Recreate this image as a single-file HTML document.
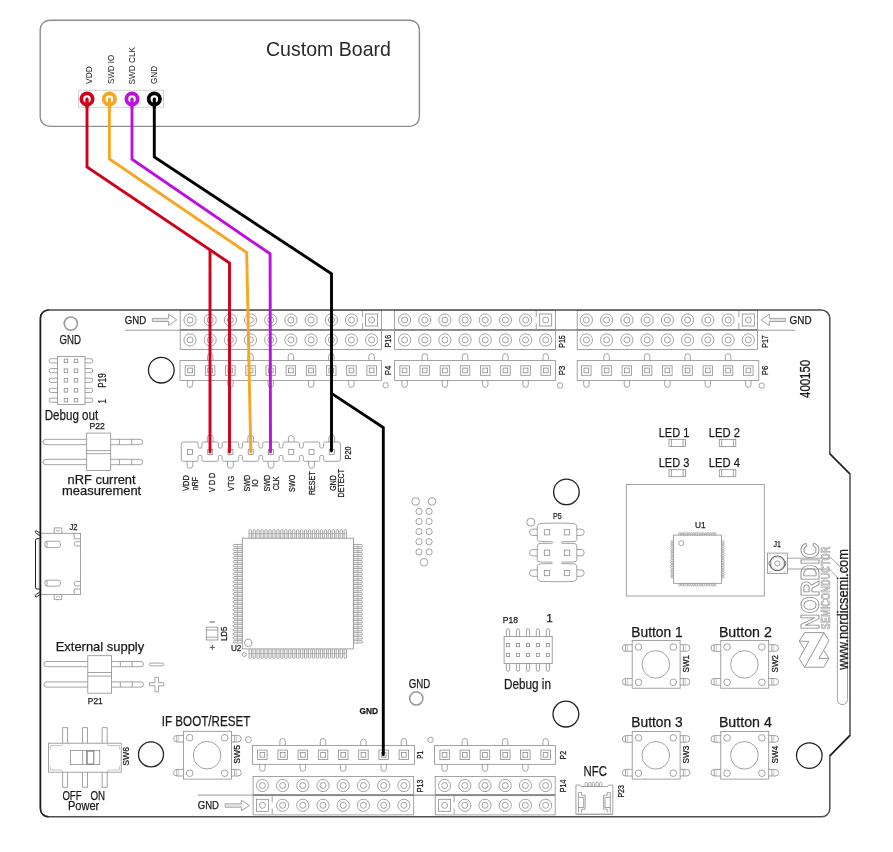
<!DOCTYPE html>
<html><head><meta charset="utf-8"><title>Board</title>
<style>html,body{margin:0;padding:0;background:#fff;width:893px;height:852px;overflow:hidden}
svg{display:block;will-change:transform} text{font-family:"Liberation Sans",sans-serif}</style></head>
<body><svg width="893" height="852" viewBox="0 0 893 852">
<rect x="40.2" y="20.2" width="379.2" height="106.2" rx="9.5" stroke="#8e8e8e" stroke-width="1.4" fill="none"/>
<text x="266.0" y="55.8" font-size="20.64" fill="#2a2a2a" stroke="#2a2a2a" stroke-width="0" font-weight="normal" textLength="124.9" lengthAdjust="spacingAndGlyphs">Custom Board</text>
<rect x="78.4" y="90.2" width="85.0" height="17.0" rx="0" stroke="#c8c8c8" stroke-width="0.8" fill="none"/>
<text transform="translate(92.0,83.9) rotate(-90)" font-size="9.33" fill="#1a1a1a" stroke="#1a1a1a" stroke-width="0" font-weight="normal" textLength="17.6" lengthAdjust="spacingAndGlyphs">VDD</text>
<text transform="translate(113.6,83.9) rotate(-90)" font-size="9.33" fill="#1a1a1a" stroke="#1a1a1a" stroke-width="0" font-weight="normal" textLength="29.0" lengthAdjust="spacingAndGlyphs">SWD IO</text>
<text transform="translate(135.3,84.6) rotate(-90)" font-size="9.33" fill="#1a1a1a" stroke="#1a1a1a" stroke-width="0" font-weight="normal" textLength="37.6" lengthAdjust="spacingAndGlyphs">SWD CLK</text>
<text transform="translate(157.1,83.9) rotate(-90)" font-size="9.33" fill="#1a1a1a" stroke="#1a1a1a" stroke-width="0" font-weight="normal" textLength="17.9" lengthAdjust="spacingAndGlyphs">GND</text>
<rect x="180.2" y="310.3" width="201.2" height="19.3" rx="0" stroke="#8c8c8c" stroke-width="0.8" fill="none"/>
<circle cx="190.0" cy="320.0" r="6.10" stroke="#8c8c8c" stroke-width="0.8" fill="none"/>
<circle cx="190.0" cy="320.0" r="3.00" stroke="#8c8c8c" stroke-width="0.8" fill="none"/>
<circle cx="210.2" cy="320.0" r="6.10" stroke="#8c8c8c" stroke-width="0.8" fill="none"/>
<circle cx="210.2" cy="320.0" r="3.00" stroke="#8c8c8c" stroke-width="0.8" fill="none"/>
<circle cx="230.4" cy="320.0" r="6.10" stroke="#8c8c8c" stroke-width="0.8" fill="none"/>
<circle cx="230.4" cy="320.0" r="3.00" stroke="#8c8c8c" stroke-width="0.8" fill="none"/>
<circle cx="250.5" cy="320.0" r="6.10" stroke="#8c8c8c" stroke-width="0.8" fill="none"/>
<circle cx="250.5" cy="320.0" r="3.00" stroke="#8c8c8c" stroke-width="0.8" fill="none"/>
<circle cx="270.7" cy="320.0" r="6.10" stroke="#8c8c8c" stroke-width="0.8" fill="none"/>
<circle cx="270.7" cy="320.0" r="3.00" stroke="#8c8c8c" stroke-width="0.8" fill="none"/>
<circle cx="290.9" cy="320.0" r="6.10" stroke="#8c8c8c" stroke-width="0.8" fill="none"/>
<circle cx="290.9" cy="320.0" r="3.00" stroke="#8c8c8c" stroke-width="0.8" fill="none"/>
<circle cx="311.1" cy="320.0" r="6.10" stroke="#8c8c8c" stroke-width="0.8" fill="none"/>
<circle cx="311.1" cy="320.0" r="3.00" stroke="#8c8c8c" stroke-width="0.8" fill="none"/>
<circle cx="331.3" cy="320.0" r="6.10" stroke="#8c8c8c" stroke-width="0.8" fill="none"/>
<circle cx="331.3" cy="320.0" r="3.00" stroke="#8c8c8c" stroke-width="0.8" fill="none"/>
<circle cx="351.4" cy="320.0" r="6.10" stroke="#8c8c8c" stroke-width="0.8" fill="none"/>
<circle cx="351.4" cy="320.0" r="3.00" stroke="#8c8c8c" stroke-width="0.8" fill="none"/>
<rect x="365.6" y="314.0" width="12.0" height="12.0" rx="0" stroke="#8c8c8c" stroke-width="0.8" fill="none"/>
<circle cx="371.6" cy="320.0" r="3.00" stroke="#8c8c8c" stroke-width="0.8" fill="none"/>
<line x1="362.4" y1="310.8" x2="362.4" y2="317.0" stroke="#8c8c8c" stroke-width="0.8"/>
<line x1="362.4" y1="323.2" x2="362.4" y2="329.1" stroke="#8c8c8c" stroke-width="0.8"/>
<rect x="394.6" y="310.3" width="160.9" height="19.3" rx="0" stroke="#8c8c8c" stroke-width="0.8" fill="none"/>
<circle cx="404.6" cy="320.0" r="6.10" stroke="#8c8c8c" stroke-width="0.8" fill="none"/>
<circle cx="404.6" cy="320.0" r="3.00" stroke="#8c8c8c" stroke-width="0.8" fill="none"/>
<circle cx="424.8" cy="320.0" r="6.10" stroke="#8c8c8c" stroke-width="0.8" fill="none"/>
<circle cx="424.8" cy="320.0" r="3.00" stroke="#8c8c8c" stroke-width="0.8" fill="none"/>
<circle cx="444.9" cy="320.0" r="6.10" stroke="#8c8c8c" stroke-width="0.8" fill="none"/>
<circle cx="444.9" cy="320.0" r="3.00" stroke="#8c8c8c" stroke-width="0.8" fill="none"/>
<circle cx="465.1" cy="320.0" r="6.10" stroke="#8c8c8c" stroke-width="0.8" fill="none"/>
<circle cx="465.1" cy="320.0" r="3.00" stroke="#8c8c8c" stroke-width="0.8" fill="none"/>
<circle cx="485.2" cy="320.0" r="6.10" stroke="#8c8c8c" stroke-width="0.8" fill="none"/>
<circle cx="485.2" cy="320.0" r="3.00" stroke="#8c8c8c" stroke-width="0.8" fill="none"/>
<circle cx="505.4" cy="320.0" r="6.10" stroke="#8c8c8c" stroke-width="0.8" fill="none"/>
<circle cx="505.4" cy="320.0" r="3.00" stroke="#8c8c8c" stroke-width="0.8" fill="none"/>
<circle cx="525.6" cy="320.0" r="6.10" stroke="#8c8c8c" stroke-width="0.8" fill="none"/>
<circle cx="525.6" cy="320.0" r="3.00" stroke="#8c8c8c" stroke-width="0.8" fill="none"/>
<rect x="539.7" y="314.0" width="12.0" height="12.0" rx="0" stroke="#8c8c8c" stroke-width="0.8" fill="none"/>
<circle cx="545.7" cy="320.0" r="3.00" stroke="#8c8c8c" stroke-width="0.8" fill="none"/>
<line x1="536.2" y1="310.8" x2="536.2" y2="317.0" stroke="#8c8c8c" stroke-width="0.8"/>
<line x1="536.2" y1="323.2" x2="536.2" y2="329.1" stroke="#8c8c8c" stroke-width="0.8"/>
<rect x="577.2" y="310.3" width="180.4" height="19.3" rx="0" stroke="#8c8c8c" stroke-width="0.8" fill="none"/>
<circle cx="586.4" cy="320.0" r="6.10" stroke="#8c8c8c" stroke-width="0.8" fill="none"/>
<circle cx="586.4" cy="320.0" r="3.00" stroke="#8c8c8c" stroke-width="0.8" fill="none"/>
<circle cx="606.6" cy="320.0" r="6.10" stroke="#8c8c8c" stroke-width="0.8" fill="none"/>
<circle cx="606.6" cy="320.0" r="3.00" stroke="#8c8c8c" stroke-width="0.8" fill="none"/>
<circle cx="626.9" cy="320.0" r="6.10" stroke="#8c8c8c" stroke-width="0.8" fill="none"/>
<circle cx="626.9" cy="320.0" r="3.00" stroke="#8c8c8c" stroke-width="0.8" fill="none"/>
<circle cx="647.1" cy="320.0" r="6.10" stroke="#8c8c8c" stroke-width="0.8" fill="none"/>
<circle cx="647.1" cy="320.0" r="3.00" stroke="#8c8c8c" stroke-width="0.8" fill="none"/>
<circle cx="667.4" cy="320.0" r="6.10" stroke="#8c8c8c" stroke-width="0.8" fill="none"/>
<circle cx="667.4" cy="320.0" r="3.00" stroke="#8c8c8c" stroke-width="0.8" fill="none"/>
<circle cx="687.6" cy="320.0" r="6.10" stroke="#8c8c8c" stroke-width="0.8" fill="none"/>
<circle cx="687.6" cy="320.0" r="3.00" stroke="#8c8c8c" stroke-width="0.8" fill="none"/>
<circle cx="707.8" cy="320.0" r="6.10" stroke="#8c8c8c" stroke-width="0.8" fill="none"/>
<circle cx="707.8" cy="320.0" r="3.00" stroke="#8c8c8c" stroke-width="0.8" fill="none"/>
<circle cx="728.1" cy="320.0" r="6.10" stroke="#8c8c8c" stroke-width="0.8" fill="none"/>
<circle cx="728.1" cy="320.0" r="3.00" stroke="#8c8c8c" stroke-width="0.8" fill="none"/>
<rect x="742.3" y="314.0" width="12.0" height="12.0" rx="0" stroke="#8c8c8c" stroke-width="0.8" fill="none"/>
<circle cx="748.3" cy="320.0" r="3.00" stroke="#8c8c8c" stroke-width="0.8" fill="none"/>
<line x1="738.8" y1="310.8" x2="738.8" y2="317.0" stroke="#8c8c8c" stroke-width="0.8"/>
<line x1="738.8" y1="323.2" x2="738.8" y2="329.1" stroke="#8c8c8c" stroke-width="0.8"/>
<rect x="180.2" y="330.4" width="201.2" height="19.1" rx="0" stroke="#8c8c8c" stroke-width="0.8" fill="none"/>
<circle cx="190.0" cy="339.9" r="6.10" stroke="#8c8c8c" stroke-width="0.8" fill="none"/>
<circle cx="190.0" cy="339.9" r="3.00" stroke="#8c8c8c" stroke-width="0.8" fill="none"/>
<circle cx="210.2" cy="339.9" r="6.10" stroke="#8c8c8c" stroke-width="0.8" fill="none"/>
<circle cx="210.2" cy="339.9" r="3.00" stroke="#8c8c8c" stroke-width="0.8" fill="none"/>
<circle cx="230.4" cy="339.9" r="6.10" stroke="#8c8c8c" stroke-width="0.8" fill="none"/>
<circle cx="230.4" cy="339.9" r="3.00" stroke="#8c8c8c" stroke-width="0.8" fill="none"/>
<circle cx="250.5" cy="339.9" r="6.10" stroke="#8c8c8c" stroke-width="0.8" fill="none"/>
<circle cx="250.5" cy="339.9" r="3.00" stroke="#8c8c8c" stroke-width="0.8" fill="none"/>
<circle cx="270.7" cy="339.9" r="6.10" stroke="#8c8c8c" stroke-width="0.8" fill="none"/>
<circle cx="270.7" cy="339.9" r="3.00" stroke="#8c8c8c" stroke-width="0.8" fill="none"/>
<circle cx="290.9" cy="339.9" r="6.10" stroke="#8c8c8c" stroke-width="0.8" fill="none"/>
<circle cx="290.9" cy="339.9" r="3.00" stroke="#8c8c8c" stroke-width="0.8" fill="none"/>
<circle cx="311.1" cy="339.9" r="6.10" stroke="#8c8c8c" stroke-width="0.8" fill="none"/>
<circle cx="311.1" cy="339.9" r="3.00" stroke="#8c8c8c" stroke-width="0.8" fill="none"/>
<circle cx="331.3" cy="339.9" r="6.10" stroke="#8c8c8c" stroke-width="0.8" fill="none"/>
<circle cx="331.3" cy="339.9" r="3.00" stroke="#8c8c8c" stroke-width="0.8" fill="none"/>
<circle cx="351.4" cy="339.9" r="6.10" stroke="#8c8c8c" stroke-width="0.8" fill="none"/>
<circle cx="351.4" cy="339.9" r="3.00" stroke="#8c8c8c" stroke-width="0.8" fill="none"/>
<circle cx="371.6" cy="339.9" r="6.10" stroke="#8c8c8c" stroke-width="0.8" fill="none"/>
<circle cx="371.6" cy="339.9" r="3.00" stroke="#8c8c8c" stroke-width="0.8" fill="none"/>
<rect x="394.6" y="330.4" width="160.9" height="19.1" rx="0" stroke="#8c8c8c" stroke-width="0.8" fill="none"/>
<circle cx="404.6" cy="339.9" r="6.10" stroke="#8c8c8c" stroke-width="0.8" fill="none"/>
<circle cx="404.6" cy="339.9" r="3.00" stroke="#8c8c8c" stroke-width="0.8" fill="none"/>
<circle cx="424.8" cy="339.9" r="6.10" stroke="#8c8c8c" stroke-width="0.8" fill="none"/>
<circle cx="424.8" cy="339.9" r="3.00" stroke="#8c8c8c" stroke-width="0.8" fill="none"/>
<circle cx="444.9" cy="339.9" r="6.10" stroke="#8c8c8c" stroke-width="0.8" fill="none"/>
<circle cx="444.9" cy="339.9" r="3.00" stroke="#8c8c8c" stroke-width="0.8" fill="none"/>
<circle cx="465.1" cy="339.9" r="6.10" stroke="#8c8c8c" stroke-width="0.8" fill="none"/>
<circle cx="465.1" cy="339.9" r="3.00" stroke="#8c8c8c" stroke-width="0.8" fill="none"/>
<circle cx="485.2" cy="339.9" r="6.10" stroke="#8c8c8c" stroke-width="0.8" fill="none"/>
<circle cx="485.2" cy="339.9" r="3.00" stroke="#8c8c8c" stroke-width="0.8" fill="none"/>
<circle cx="505.4" cy="339.9" r="6.10" stroke="#8c8c8c" stroke-width="0.8" fill="none"/>
<circle cx="505.4" cy="339.9" r="3.00" stroke="#8c8c8c" stroke-width="0.8" fill="none"/>
<circle cx="525.6" cy="339.9" r="6.10" stroke="#8c8c8c" stroke-width="0.8" fill="none"/>
<circle cx="525.6" cy="339.9" r="3.00" stroke="#8c8c8c" stroke-width="0.8" fill="none"/>
<circle cx="545.7" cy="339.9" r="6.10" stroke="#8c8c8c" stroke-width="0.8" fill="none"/>
<circle cx="545.7" cy="339.9" r="3.00" stroke="#8c8c8c" stroke-width="0.8" fill="none"/>
<rect x="577.2" y="330.4" width="180.4" height="19.1" rx="0" stroke="#8c8c8c" stroke-width="0.8" fill="none"/>
<circle cx="586.4" cy="339.9" r="6.10" stroke="#8c8c8c" stroke-width="0.8" fill="none"/>
<circle cx="586.4" cy="339.9" r="3.00" stroke="#8c8c8c" stroke-width="0.8" fill="none"/>
<circle cx="606.6" cy="339.9" r="6.10" stroke="#8c8c8c" stroke-width="0.8" fill="none"/>
<circle cx="606.6" cy="339.9" r="3.00" stroke="#8c8c8c" stroke-width="0.8" fill="none"/>
<circle cx="626.9" cy="339.9" r="6.10" stroke="#8c8c8c" stroke-width="0.8" fill="none"/>
<circle cx="626.9" cy="339.9" r="3.00" stroke="#8c8c8c" stroke-width="0.8" fill="none"/>
<circle cx="647.1" cy="339.9" r="6.10" stroke="#8c8c8c" stroke-width="0.8" fill="none"/>
<circle cx="647.1" cy="339.9" r="3.00" stroke="#8c8c8c" stroke-width="0.8" fill="none"/>
<circle cx="667.4" cy="339.9" r="6.10" stroke="#8c8c8c" stroke-width="0.8" fill="none"/>
<circle cx="667.4" cy="339.9" r="3.00" stroke="#8c8c8c" stroke-width="0.8" fill="none"/>
<circle cx="687.6" cy="339.9" r="6.10" stroke="#8c8c8c" stroke-width="0.8" fill="none"/>
<circle cx="687.6" cy="339.9" r="3.00" stroke="#8c8c8c" stroke-width="0.8" fill="none"/>
<circle cx="707.8" cy="339.9" r="6.10" stroke="#8c8c8c" stroke-width="0.8" fill="none"/>
<circle cx="707.8" cy="339.9" r="3.00" stroke="#8c8c8c" stroke-width="0.8" fill="none"/>
<circle cx="728.1" cy="339.9" r="6.10" stroke="#8c8c8c" stroke-width="0.8" fill="none"/>
<circle cx="728.1" cy="339.9" r="3.00" stroke="#8c8c8c" stroke-width="0.8" fill="none"/>
<circle cx="748.3" cy="339.9" r="6.10" stroke="#8c8c8c" stroke-width="0.8" fill="none"/>
<circle cx="748.3" cy="339.9" r="3.00" stroke="#8c8c8c" stroke-width="0.8" fill="none"/>
<line x1="125.2" y1="330.2" x2="180.2" y2="330.2" stroke="#8c8c8c" stroke-width="0.9"/>
<line x1="381.4" y1="330.2" x2="394.6" y2="330.2" stroke="#8c8c8c" stroke-width="0.9"/>
<line x1="555.5" y1="330.2" x2="577.2" y2="330.2" stroke="#8c8c8c" stroke-width="0.9"/>
<line x1="757.6" y1="330.2" x2="795.2" y2="330.2" stroke="#8c8c8c" stroke-width="0.9"/>
<line x1="180.2" y1="329.9" x2="757.6" y2="329.9" stroke="#777" stroke-width="1.0"/>
<rect x="180.0" y="360.6" width="201.4" height="19.8" rx="0" stroke="#8c8c8c" stroke-width="0.8" fill="none"/>
<rect x="185.2" y="365.8" width="9.5" height="9.5" rx="0" stroke="#8c8c8c" stroke-width="0.8" fill="none"/>
<rect x="187.7" y="368.1" width="4.7" height="4.7" rx="0" stroke="#8c8c8c" stroke-width="0.8" fill="none"/>
<path d="M187.3,380.4 L187.3,384.7 A2.7,2.7 0 0 0 192.7,384.7 L192.7,380.4" stroke="#8c8c8c" stroke-width="0.8" fill="none"/>
<rect x="205.4" y="365.8" width="9.5" height="9.5" rx="0" stroke="#8c8c8c" stroke-width="0.8" fill="none"/>
<rect x="207.8" y="368.1" width="4.7" height="4.7" rx="0" stroke="#8c8c8c" stroke-width="0.8" fill="none"/>
<path d="M207.5,360.6 L207.5,356.3 A2.7,2.7 0 0 1 212.9,356.3 L212.9,360.6" stroke="#8c8c8c" stroke-width="0.8" fill="none"/>
<rect x="225.6" y="365.8" width="9.5" height="9.5" rx="0" stroke="#8c8c8c" stroke-width="0.8" fill="none"/>
<rect x="228.0" y="368.1" width="4.7" height="4.7" rx="0" stroke="#8c8c8c" stroke-width="0.8" fill="none"/>
<path d="M227.7,380.4 L227.7,384.7 A2.7,2.7 0 0 0 233.1,384.7 L233.1,380.4" stroke="#8c8c8c" stroke-width="0.8" fill="none"/>
<rect x="245.8" y="365.8" width="9.5" height="9.5" rx="0" stroke="#8c8c8c" stroke-width="0.8" fill="none"/>
<rect x="248.2" y="368.1" width="4.7" height="4.7" rx="0" stroke="#8c8c8c" stroke-width="0.8" fill="none"/>
<path d="M247.8,360.6 L247.8,356.3 A2.7,2.7 0 0 1 253.2,356.3 L253.2,360.6" stroke="#8c8c8c" stroke-width="0.8" fill="none"/>
<rect x="266.0" y="365.8" width="9.5" height="9.5" rx="0" stroke="#8c8c8c" stroke-width="0.8" fill="none"/>
<rect x="268.4" y="368.1" width="4.7" height="4.7" rx="0" stroke="#8c8c8c" stroke-width="0.8" fill="none"/>
<path d="M268.0,380.4 L268.0,384.7 A2.7,2.7 0 0 0 273.4,384.7 L273.4,380.4" stroke="#8c8c8c" stroke-width="0.8" fill="none"/>
<rect x="286.1" y="365.8" width="9.5" height="9.5" rx="0" stroke="#8c8c8c" stroke-width="0.8" fill="none"/>
<rect x="288.5" y="368.1" width="4.7" height="4.7" rx="0" stroke="#8c8c8c" stroke-width="0.8" fill="none"/>
<path d="M288.2,360.6 L288.2,356.3 A2.7,2.7 0 0 1 293.6,356.3 L293.6,360.6" stroke="#8c8c8c" stroke-width="0.8" fill="none"/>
<rect x="306.3" y="365.8" width="9.5" height="9.5" rx="0" stroke="#8c8c8c" stroke-width="0.8" fill="none"/>
<rect x="308.7" y="368.1" width="4.7" height="4.7" rx="0" stroke="#8c8c8c" stroke-width="0.8" fill="none"/>
<path d="M308.4,380.4 L308.4,384.7 A2.7,2.7 0 0 0 313.8,384.7 L313.8,380.4" stroke="#8c8c8c" stroke-width="0.8" fill="none"/>
<rect x="326.5" y="365.8" width="9.5" height="9.5" rx="0" stroke="#8c8c8c" stroke-width="0.8" fill="none"/>
<rect x="328.9" y="368.1" width="4.7" height="4.7" rx="0" stroke="#8c8c8c" stroke-width="0.8" fill="none"/>
<path d="M328.6,360.6 L328.6,356.3 A2.7,2.7 0 0 1 334.0,356.3 L334.0,360.6" stroke="#8c8c8c" stroke-width="0.8" fill="none"/>
<rect x="346.7" y="365.8" width="9.5" height="9.5" rx="0" stroke="#8c8c8c" stroke-width="0.8" fill="none"/>
<rect x="349.1" y="368.1" width="4.7" height="4.7" rx="0" stroke="#8c8c8c" stroke-width="0.8" fill="none"/>
<path d="M348.7,380.4 L348.7,384.7 A2.7,2.7 0 0 0 354.1,384.7 L354.1,380.4" stroke="#8c8c8c" stroke-width="0.8" fill="none"/>
<rect x="366.9" y="365.8" width="9.5" height="9.5" rx="0" stroke="#8c8c8c" stroke-width="0.8" fill="none"/>
<rect x="369.3" y="368.1" width="4.7" height="4.7" rx="0" stroke="#8c8c8c" stroke-width="0.8" fill="none"/>
<path d="M368.9,360.6 L368.9,356.3 A2.7,2.7 0 0 1 374.3,356.3 L374.3,360.6" stroke="#8c8c8c" stroke-width="0.8" fill="none"/>
<rect x="394.6" y="360.6" width="160.9" height="19.8" rx="0" stroke="#8c8c8c" stroke-width="0.8" fill="none"/>
<rect x="399.9" y="365.8" width="9.5" height="9.5" rx="0" stroke="#8c8c8c" stroke-width="0.8" fill="none"/>
<rect x="402.2" y="368.1" width="4.7" height="4.7" rx="0" stroke="#8c8c8c" stroke-width="0.8" fill="none"/>
<path d="M401.9,380.4 L401.9,384.7 A2.7,2.7 0 0 0 407.3,384.7 L407.3,380.4" stroke="#8c8c8c" stroke-width="0.8" fill="none"/>
<rect x="420.0" y="365.8" width="9.5" height="9.5" rx="0" stroke="#8c8c8c" stroke-width="0.8" fill="none"/>
<rect x="422.4" y="368.1" width="4.7" height="4.7" rx="0" stroke="#8c8c8c" stroke-width="0.8" fill="none"/>
<path d="M422.1,360.6 L422.1,356.3 A2.7,2.7 0 0 1 427.5,356.3 L427.5,360.6" stroke="#8c8c8c" stroke-width="0.8" fill="none"/>
<rect x="440.2" y="365.8" width="9.5" height="9.5" rx="0" stroke="#8c8c8c" stroke-width="0.8" fill="none"/>
<rect x="442.6" y="368.1" width="4.7" height="4.7" rx="0" stroke="#8c8c8c" stroke-width="0.8" fill="none"/>
<path d="M442.2,380.4 L442.2,384.7 A2.7,2.7 0 0 0 447.6,384.7 L447.6,380.4" stroke="#8c8c8c" stroke-width="0.8" fill="none"/>
<rect x="460.3" y="365.8" width="9.5" height="9.5" rx="0" stroke="#8c8c8c" stroke-width="0.8" fill="none"/>
<rect x="462.7" y="368.1" width="4.7" height="4.7" rx="0" stroke="#8c8c8c" stroke-width="0.8" fill="none"/>
<path d="M462.4,360.6 L462.4,356.3 A2.7,2.7 0 0 1 467.8,356.3 L467.8,360.6" stroke="#8c8c8c" stroke-width="0.8" fill="none"/>
<rect x="480.5" y="365.8" width="9.5" height="9.5" rx="0" stroke="#8c8c8c" stroke-width="0.8" fill="none"/>
<rect x="482.9" y="368.1" width="4.7" height="4.7" rx="0" stroke="#8c8c8c" stroke-width="0.8" fill="none"/>
<path d="M482.5,380.4 L482.5,384.7 A2.7,2.7 0 0 0 487.9,384.7 L487.9,380.4" stroke="#8c8c8c" stroke-width="0.8" fill="none"/>
<rect x="500.7" y="365.8" width="9.5" height="9.5" rx="0" stroke="#8c8c8c" stroke-width="0.8" fill="none"/>
<rect x="503.1" y="368.1" width="4.7" height="4.7" rx="0" stroke="#8c8c8c" stroke-width="0.8" fill="none"/>
<path d="M502.7,360.6 L502.7,356.3 A2.7,2.7 0 0 1 508.1,356.3 L508.1,360.6" stroke="#8c8c8c" stroke-width="0.8" fill="none"/>
<rect x="520.8" y="365.8" width="9.5" height="9.5" rx="0" stroke="#8c8c8c" stroke-width="0.8" fill="none"/>
<rect x="523.2" y="368.1" width="4.7" height="4.7" rx="0" stroke="#8c8c8c" stroke-width="0.8" fill="none"/>
<path d="M522.9,380.4 L522.9,384.7 A2.7,2.7 0 0 0 528.3,384.7 L528.3,380.4" stroke="#8c8c8c" stroke-width="0.8" fill="none"/>
<rect x="541.0" y="365.8" width="9.5" height="9.5" rx="0" stroke="#8c8c8c" stroke-width="0.8" fill="none"/>
<rect x="543.4" y="368.1" width="4.7" height="4.7" rx="0" stroke="#8c8c8c" stroke-width="0.8" fill="none"/>
<path d="M543.0,360.6 L543.0,356.3 A2.7,2.7 0 0 1 548.4,356.3 L548.4,360.6" stroke="#8c8c8c" stroke-width="0.8" fill="none"/>
<rect x="577.2" y="360.6" width="181.6" height="19.8" rx="0" stroke="#8c8c8c" stroke-width="0.8" fill="none"/>
<rect x="581.6" y="365.8" width="9.5" height="9.5" rx="0" stroke="#8c8c8c" stroke-width="0.8" fill="none"/>
<rect x="584.0" y="368.1" width="4.7" height="4.7" rx="0" stroke="#8c8c8c" stroke-width="0.8" fill="none"/>
<path d="M583.7,380.4 L583.7,384.7 A2.7,2.7 0 0 0 589.1,384.7 L589.1,380.4" stroke="#8c8c8c" stroke-width="0.8" fill="none"/>
<rect x="601.9" y="365.8" width="9.5" height="9.5" rx="0" stroke="#8c8c8c" stroke-width="0.8" fill="none"/>
<rect x="604.3" y="368.1" width="4.7" height="4.7" rx="0" stroke="#8c8c8c" stroke-width="0.8" fill="none"/>
<path d="M603.9,360.6 L603.9,356.3 A2.7,2.7 0 0 1 609.3,356.3 L609.3,360.6" stroke="#8c8c8c" stroke-width="0.8" fill="none"/>
<rect x="622.1" y="365.8" width="9.5" height="9.5" rx="0" stroke="#8c8c8c" stroke-width="0.8" fill="none"/>
<rect x="624.5" y="368.1" width="4.7" height="4.7" rx="0" stroke="#8c8c8c" stroke-width="0.8" fill="none"/>
<path d="M624.2,380.4 L624.2,384.7 A2.7,2.7 0 0 0 629.6,384.7 L629.6,380.4" stroke="#8c8c8c" stroke-width="0.8" fill="none"/>
<rect x="642.4" y="365.8" width="9.5" height="9.5" rx="0" stroke="#8c8c8c" stroke-width="0.8" fill="none"/>
<rect x="644.8" y="368.1" width="4.7" height="4.7" rx="0" stroke="#8c8c8c" stroke-width="0.8" fill="none"/>
<path d="M644.4,360.6 L644.4,356.3 A2.7,2.7 0 0 1 649.8,356.3 L649.8,360.6" stroke="#8c8c8c" stroke-width="0.8" fill="none"/>
<rect x="662.6" y="365.8" width="9.5" height="9.5" rx="0" stroke="#8c8c8c" stroke-width="0.8" fill="none"/>
<rect x="665.0" y="368.1" width="4.7" height="4.7" rx="0" stroke="#8c8c8c" stroke-width="0.8" fill="none"/>
<path d="M664.7,380.4 L664.7,384.7 A2.7,2.7 0 0 0 670.1,384.7 L670.1,380.4" stroke="#8c8c8c" stroke-width="0.8" fill="none"/>
<rect x="682.8" y="365.8" width="9.5" height="9.5" rx="0" stroke="#8c8c8c" stroke-width="0.8" fill="none"/>
<rect x="685.2" y="368.1" width="4.7" height="4.7" rx="0" stroke="#8c8c8c" stroke-width="0.8" fill="none"/>
<path d="M684.9,360.6 L684.9,356.3 A2.7,2.7 0 0 1 690.3,356.3 L690.3,360.6" stroke="#8c8c8c" stroke-width="0.8" fill="none"/>
<rect x="703.1" y="365.8" width="9.5" height="9.5" rx="0" stroke="#8c8c8c" stroke-width="0.8" fill="none"/>
<rect x="705.5" y="368.1" width="4.7" height="4.7" rx="0" stroke="#8c8c8c" stroke-width="0.8" fill="none"/>
<path d="M705.1,380.4 L705.1,384.7 A2.7,2.7 0 0 0 710.5,384.7 L710.5,380.4" stroke="#8c8c8c" stroke-width="0.8" fill="none"/>
<rect x="723.3" y="365.8" width="9.5" height="9.5" rx="0" stroke="#8c8c8c" stroke-width="0.8" fill="none"/>
<rect x="725.7" y="368.1" width="4.7" height="4.7" rx="0" stroke="#8c8c8c" stroke-width="0.8" fill="none"/>
<path d="M725.4,360.6 L725.4,356.3 A2.7,2.7 0 0 1 730.8,356.3 L730.8,360.6" stroke="#8c8c8c" stroke-width="0.8" fill="none"/>
<rect x="743.6" y="365.8" width="9.5" height="9.5" rx="0" stroke="#8c8c8c" stroke-width="0.8" fill="none"/>
<rect x="746.0" y="368.1" width="4.7" height="4.7" rx="0" stroke="#8c8c8c" stroke-width="0.8" fill="none"/>
<path d="M745.6,380.4 L745.6,384.7 A2.7,2.7 0 0 0 751.0,384.7 L751.0,380.4" stroke="#8c8c8c" stroke-width="0.8" fill="none"/>
<text transform="translate(390.6,347.5) rotate(-90)" font-size="9.75" fill="#1a1a1a" stroke="#1a1a1a" stroke-width="0.25" font-weight="normal" textLength="12.7" lengthAdjust="spacingAndGlyphs">P16</text>
<text transform="translate(390.6,375.2) rotate(-90)" font-size="9.75" fill="#1a1a1a" stroke="#1a1a1a" stroke-width="0.25" font-weight="normal" textLength="9.4" lengthAdjust="spacingAndGlyphs">P4</text>
<text transform="translate(564.8,347.8) rotate(-90)" font-size="9.75" fill="#1a1a1a" stroke="#1a1a1a" stroke-width="0.25" font-weight="normal" textLength="12.5" lengthAdjust="spacingAndGlyphs">P15</text>
<text transform="translate(564.8,375.2) rotate(-90)" font-size="9.75" fill="#1a1a1a" stroke="#1a1a1a" stroke-width="0.25" font-weight="normal" textLength="9.4" lengthAdjust="spacingAndGlyphs">P3</text>
<text transform="translate(768.0,347.8) rotate(-90)" font-size="9.75" fill="#1a1a1a" stroke="#1a1a1a" stroke-width="0.25" font-weight="normal" textLength="12.5" lengthAdjust="spacingAndGlyphs">P17</text>
<text transform="translate(768.4,375.2) rotate(-90)" font-size="9.75" fill="#1a1a1a" stroke="#1a1a1a" stroke-width="0.25" font-weight="normal" textLength="9.4" lengthAdjust="spacingAndGlyphs">P6</text>
<circle cx="385.6" cy="385.3" r="2.70" stroke="#8c8c8c" stroke-width="0.8" fill="none"/>
<circle cx="560.1" cy="385.4" r="2.70" stroke="#8c8c8c" stroke-width="0.8" fill="none"/>
<circle cx="761.7" cy="385.6" r="2.70" stroke="#8c8c8c" stroke-width="0.8" fill="none"/>
<text x="124.8" y="323.9" font-size="11.63" fill="#1a1a1a" stroke="#1a1a1a" stroke-width="0.25" font-weight="normal" textLength="21.5" lengthAdjust="spacingAndGlyphs">GND</text>
<rect x="153" y="319.0" width="15.5" height="2.0" fill="#e2e2e2"/>
<path d="M152.4,318.4 L168.5,318.4 L168.5,314.1 L176.8,319.9 L168.5,325.5 L168.5,321.5 L152.4,321.5 Z" stroke="#8c8c8c" stroke-width="0.8" fill="none"/>
<text x="789.6" y="323.9" font-size="11.63" fill="#1a1a1a" stroke="#1a1a1a" stroke-width="0.25" font-weight="normal" textLength="22.0" lengthAdjust="spacingAndGlyphs">GND</text>
<rect x="769.3" y="319.0" width="15.5" height="2.0" fill="#e2e2e2"/>
<path d="M785.4,318.4 L769.3,318.4 L769.3,314.1 L761.0,319.9 L769.3,325.5 L769.3,321.5 L785.4,321.5 Z" stroke="#8c8c8c" stroke-width="0.8" fill="none"/>
<circle cx="70.8" cy="323.6" r="6.60" stroke="#9a9a9a" stroke-width="1.6" fill="none"/>
<text x="59.6" y="344.4" font-size="12.35" fill="#1a1a1a" stroke="#1a1a1a" stroke-width="0.25" font-weight="normal" textLength="21.4" lengthAdjust="spacingAndGlyphs">GND</text>
<circle cx="161.3" cy="370.2" r="12.80" stroke="#222" stroke-width="1.3" fill="none"/>
<rect x="57.6" y="356.4" width="27.4" height="48.1" rx="0" stroke="#8c8c8c" stroke-width="0.8" fill="none"/>
<rect x="64.2" y="359.1" width="3.5" height="3.5" rx="0" stroke="#8c8c8c" stroke-width="0.8" fill="none"/>
<rect x="74.3" y="359.1" width="3.5" height="3.5" rx="0" stroke="#8c8c8c" stroke-width="0.8" fill="none"/>
<path d="M57.6,358.7 L51.2,358.7 A2.1,2.1 0 0 0 51.2,362.9 L57.6,362.9" stroke="#8c8c8c" stroke-width="0.8" fill="none"/>
<path d="M85.0,358.7 L90.7,358.7 A2.1,2.1 0 0 1 90.7,362.9 L85.0,362.9" stroke="#8c8c8c" stroke-width="0.8" fill="none"/>
<rect x="64.2" y="368.9" width="3.5" height="3.5" rx="0" stroke="#8c8c8c" stroke-width="0.8" fill="none"/>
<rect x="74.3" y="368.9" width="3.5" height="3.5" rx="0" stroke="#8c8c8c" stroke-width="0.8" fill="none"/>
<path d="M57.6,368.5 L51.2,368.5 A2.1,2.1 0 0 0 51.2,372.7 L57.6,372.7" stroke="#8c8c8c" stroke-width="0.8" fill="none"/>
<path d="M85.0,368.5 L90.7,368.5 A2.1,2.1 0 0 1 90.7,372.7 L85.0,372.7" stroke="#8c8c8c" stroke-width="0.8" fill="none"/>
<rect x="64.2" y="378.6" width="3.5" height="3.5" rx="0" stroke="#8c8c8c" stroke-width="0.8" fill="none"/>
<rect x="74.3" y="378.6" width="3.5" height="3.5" rx="0" stroke="#8c8c8c" stroke-width="0.8" fill="none"/>
<path d="M57.6,378.2 L51.2,378.2 A2.1,2.1 0 0 0 51.2,382.4 L57.6,382.4" stroke="#8c8c8c" stroke-width="0.8" fill="none"/>
<path d="M85.0,378.2 L90.7,378.2 A2.1,2.1 0 0 1 90.7,382.4 L85.0,382.4" stroke="#8c8c8c" stroke-width="0.8" fill="none"/>
<rect x="64.2" y="388.6" width="3.5" height="3.5" rx="0" stroke="#8c8c8c" stroke-width="0.8" fill="none"/>
<rect x="74.3" y="388.6" width="3.5" height="3.5" rx="0" stroke="#8c8c8c" stroke-width="0.8" fill="none"/>
<path d="M57.6,388.3 L51.2,388.3 A2.1,2.1 0 0 0 51.2,392.5 L57.6,392.5" stroke="#8c8c8c" stroke-width="0.8" fill="none"/>
<path d="M85.0,388.3 L90.7,388.3 A2.1,2.1 0 0 1 90.7,392.5 L85.0,392.5" stroke="#8c8c8c" stroke-width="0.8" fill="none"/>
<rect x="64.2" y="398.4" width="3.5" height="3.5" rx="0" stroke="#8c8c8c" stroke-width="0.8" fill="none"/>
<rect x="74.3" y="398.4" width="3.5" height="3.5" rx="0" stroke="#8c8c8c" stroke-width="0.8" fill="none"/>
<path d="M57.6,398.1 L51.2,398.1 A2.1,2.1 0 0 0 51.2,402.3 L57.6,402.3" stroke="#8c8c8c" stroke-width="0.8" fill="none"/>
<path d="M85.0,398.1 L90.7,398.1 A2.1,2.1 0 0 1 90.7,402.3 L85.0,402.3" stroke="#8c8c8c" stroke-width="0.8" fill="none"/>
<text transform="translate(106.2,387.7) rotate(-90)" font-size="10.18" fill="#1a1a1a" stroke="#1a1a1a" stroke-width="0.25" font-weight="normal" textLength="14.4" lengthAdjust="spacingAndGlyphs">P19</text>
<text transform="translate(106.2,403.4) rotate(-90)" font-size="10.18" fill="#1a1a1a" stroke="#1a1a1a" stroke-width="0.25" font-weight="normal" textLength="4.5" lengthAdjust="spacingAndGlyphs">1</text>
<text x="44.7" y="419.6" font-size="14.83" fill="#1a1a1a" stroke="#1a1a1a" stroke-width="0.25" font-weight="normal" textLength="53.5" lengthAdjust="spacingAndGlyphs">Debug out</text>
<text x="89.4" y="429.0" font-size="9.16" fill="#1a1a1a" stroke="#1a1a1a" stroke-width="0.25" font-weight="normal" textLength="15.5" lengthAdjust="spacingAndGlyphs">P22</text>
<rect x="86.7" y="433.1" width="24.0" height="37.3" rx="0" stroke="#8c8c8c" stroke-width="0.8" fill="none"/>
<line x1="86.7" y1="450.6" x2="110.7" y2="450.6" stroke="#8c8c8c" stroke-width="0.8"/>
<line x1="86.7" y1="453.7" x2="110.7" y2="453.7" stroke="#8c8c8c" stroke-width="0.8"/>
<path d="M86.7,439.3 L45.7,439.3 A2.7,2.7 0 0 0 45.7,444.7 L86.7,444.7" stroke="#8c8c8c" stroke-width="0.8" fill="none"/>
<path d="M110.7,439.3 L139.8,439.3 A2.7,2.7 0 0 1 139.8,444.7 L110.7,444.7" stroke="#8c8c8c" stroke-width="0.8" fill="none"/>
<line x1="119.4" y1="439.3" x2="119.4" y2="444.7" stroke="#8c8c8c" stroke-width="0.8"/>
<line x1="131.8" y1="439.3" x2="131.8" y2="444.7" stroke="#8c8c8c" stroke-width="0.8"/>
<path d="M86.7,459.3 L45.7,459.3 A2.7,2.7 0 0 0 45.7,464.7 L86.7,464.7" stroke="#8c8c8c" stroke-width="0.8" fill="none"/>
<path d="M110.7,459.3 L139.8,459.3 A2.7,2.7 0 0 1 139.8,464.7 L110.7,464.7" stroke="#8c8c8c" stroke-width="0.8" fill="none"/>
<line x1="119.4" y1="459.3" x2="119.4" y2="464.7" stroke="#8c8c8c" stroke-width="0.8"/>
<line x1="131.8" y1="459.3" x2="131.8" y2="464.7" stroke="#8c8c8c" stroke-width="0.8"/>
<text x="67.6" y="484.1" font-size="12.93" fill="#1a1a1a" stroke="#1a1a1a" stroke-width="0.25" font-weight="normal" textLength="68.0" lengthAdjust="spacingAndGlyphs">nRF current</text>
<text x="62.0" y="494.7" font-size="12.93" fill="#1a1a1a" stroke="#1a1a1a" stroke-width="0.25" font-weight="normal" textLength="79.2" lengthAdjust="spacingAndGlyphs">measurement</text>
<rect x="40.3" y="533.3" width="40.3" height="61.1" rx="0" stroke="#8c8c8c" stroke-width="0.8" fill="none"/>
<path d="M40.3,533.5 L36.6,530.8 Q35.4,530.5 35.2,531.8 Q35.2,532.7 36.2,533.3 L39.9,535.7 Q40.9,536.4 40.8,537.5 Q40.6,538.7 39.3,538.7 L37.0,538.7 Q35.5,538.8 35.5,540.6" stroke="#1c1c1c" stroke-width="1.0" fill="none"/>
<path d="M40.3,594.2 L36.6,596.9 Q35.4,597.2 35.2,595.9 Q35.2,595.0 36.2,594.4 L39.9,592.0 Q40.9,591.3 40.8,590.2 Q40.6,589.0 39.3,589.0 L37.0,589.0 Q35.5,588.9 35.5,587.1" stroke="#1c1c1c" stroke-width="1.0" fill="none"/>
<line x1="35.5" y1="540.5" x2="35.5" y2="587.2" stroke="#1c1c1c" stroke-width="1.0"/>
<line x1="39.0" y1="540.0" x2="39.0" y2="587.7" stroke="#bbb" stroke-width="0.8"/>
<rect x="44.8" y="541.2" width="15.6" height="6.4" rx="2.5" stroke="#8c8c8c" stroke-width="0.8" fill="none"/>
<line x1="47.0" y1="541.2" x2="47.0" y2="547.6" stroke="#8c8c8c" stroke-width="0.8"/>
<rect x="44.8" y="580.2" width="15.6" height="6.0" rx="2.5" stroke="#8c8c8c" stroke-width="0.8" fill="none"/>
<line x1="47.0" y1="580.2" x2="47.0" y2="586.2" stroke="#8c8c8c" stroke-width="0.8"/>
<path d="M54.2,533.3 L54.2,527.9 L61.8,527.9 L61.8,533.3" stroke="#8c8c8c" stroke-width="0.8" fill="none"/>
<path d="M56.0,530.2 Q58,532.2 60,530.2" stroke="#8c8c8c" stroke-width="0.7" fill="none"/>
<path d="M54.2,594.4 L54.2,599.6 L61.8,599.6 L61.8,594.4" stroke="#8c8c8c" stroke-width="0.8" fill="none"/>
<path d="M56.0,597.4 Q58,595.4 60,597.4" stroke="#8c8c8c" stroke-width="0.7" fill="none"/>
<path d="M80.6,538.8 L74.2,538.8 L74.2,533.3" stroke="#8c8c8c" stroke-width="0.8" fill="none"/>
<path d="M80.6,546.0 L76.4,546.0 A2.2,2.2 0 0 1 76.4,541.6 L80.6,541.6" stroke="#8c8c8c" stroke-width="0.8" fill="none"/>
<path d="M80.6,589.0 L74.2,589.0 L74.2,594.4" stroke="#8c8c8c" stroke-width="0.8" fill="none"/>
<path d="M80.6,585.8 L76.4,585.8 A2.2,2.2 0 0 1 76.4,581.4 L80.6,581.4" stroke="#8c8c8c" stroke-width="0.8" fill="none"/>
<text x="69.4" y="529.9" font-size="8.90" fill="#1a1a1a" stroke="#1a1a1a" stroke-width="0.25" font-weight="normal" textLength="8.1" lengthAdjust="spacingAndGlyphs">J2</text>
<text x="55.7" y="650.9" font-size="13.36" fill="#1a1a1a" stroke="#1a1a1a" stroke-width="0.25" font-weight="normal" textLength="88.5" lengthAdjust="spacingAndGlyphs">External supply</text>
<rect x="87.8" y="655.7" width="23.8" height="37.5" rx="0" stroke="#8c8c8c" stroke-width="0.8" fill="none"/>
<line x1="87.8" y1="672.5" x2="111.6" y2="672.5" stroke="#8c8c8c" stroke-width="0.8"/>
<line x1="87.8" y1="676.1" x2="111.6" y2="676.1" stroke="#8c8c8c" stroke-width="0.8"/>
<path d="M87.8,661.5 L46.5,661.5 A2.6,2.6 0 0 0 46.5,666.7 L87.8,666.7" stroke="#8c8c8c" stroke-width="0.8" fill="none"/>
<path d="M111.6,661.5 L140.9,661.5 A2.6,2.6 0 0 1 140.9,666.7 L111.6,666.7" stroke="#8c8c8c" stroke-width="0.8" fill="none"/>
<line x1="120.4" y1="661.5" x2="120.4" y2="666.7" stroke="#8c8c8c" stroke-width="0.8"/>
<line x1="132.2" y1="661.5" x2="132.2" y2="666.7" stroke="#8c8c8c" stroke-width="0.8"/>
<path d="M87.8,681.9 L46.5,681.9 A2.6,2.6 0 0 0 46.5,687.1 L87.8,687.1" stroke="#8c8c8c" stroke-width="0.8" fill="none"/>
<path d="M111.6,681.9 L140.9,681.9 A2.6,2.6 0 0 1 140.9,687.1 L111.6,687.1" stroke="#8c8c8c" stroke-width="0.8" fill="none"/>
<line x1="120.4" y1="681.9" x2="120.4" y2="687.1" stroke="#8c8c8c" stroke-width="0.8"/>
<line x1="132.2" y1="681.9" x2="132.2" y2="687.1" stroke="#8c8c8c" stroke-width="0.8"/>
<rect x="149.4" y="663.1" width="14.4" height="2.7" rx="1.3" stroke="#8c8c8c" stroke-width="0.8" fill="none"/>
<path d="M149.4,682.7 L154.9,682.7 L154.9,677.2 L158.4,677.2 L158.4,682.7 L163.8,682.7 L163.8,685.8 L158.4,685.8 L158.4,691.8 L154.9,691.8 L154.9,685.8 L149.4,685.8 Z" stroke="#8c8c8c" stroke-width="0.8" fill="none"/>
<text x="87.8" y="703.9" font-size="9.12" fill="#1a1a1a" stroke="#1a1a1a" stroke-width="0.25" font-weight="normal" textLength="14.9" lengthAdjust="spacingAndGlyphs">P21</text>
<rect x="48.6" y="743.2" width="72.6" height="29.0" rx="0" stroke="#8c8c8c" stroke-width="0.8" fill="none"/>
<path d="M50.4,749.0 L50.4,745.6 L61.6,745.6 L63.0,743.2" stroke="#aaa" stroke-width="0.7" fill="none"/>
<path d="M50.4,766.4 L50.4,770.0 L61.6,770.0 L63.0,772.2" stroke="#aaa" stroke-width="0.7" fill="none"/>
<path d="M119.4,749.0 L119.4,745.6 L108.2,745.6 L106.8,743.2" stroke="#aaa" stroke-width="0.7" fill="none"/>
<path d="M119.4,766.4 L119.4,770.0 L108.2,770.0 L106.8,772.2" stroke="#aaa" stroke-width="0.7" fill="none"/>
<path d="M62.6,743.2 L62.6,727.6 L67.6,727.6 L67.6,743.2" stroke="#8c8c8c" stroke-width="0.8" fill="none"/>
<path d="M62.6,772.2 L62.6,787.3 L67.6,787.3 L67.6,772.2" stroke="#8c8c8c" stroke-width="0.8" fill="none"/>
<path d="M82.5,743.2 L82.5,727.6 L87.5,727.6 L87.5,743.2" stroke="#8c8c8c" stroke-width="0.8" fill="none"/>
<path d="M82.5,772.2 L82.5,787.3 L87.5,787.3 L87.5,772.2" stroke="#8c8c8c" stroke-width="0.8" fill="none"/>
<path d="M102.2,743.2 L102.2,727.6 L107.2,727.6 L107.2,743.2" stroke="#8c8c8c" stroke-width="0.8" fill="none"/>
<path d="M102.2,772.2 L102.2,787.3 L107.2,787.3 L107.2,772.2" stroke="#8c8c8c" stroke-width="0.8" fill="none"/>
<rect x="70.4" y="750.4" width="29.3" height="14.2" rx="0" stroke="#8c8c8c" stroke-width="0.8" fill="none"/>
<line x1="82.6" y1="750.4" x2="82.6" y2="764.6" stroke="#8c8c8c" stroke-width="0.8"/>
<line x1="86.7" y1="750.4" x2="86.7" y2="764.6" stroke="#8c8c8c" stroke-width="0.8"/>
<rect x="87.1" y="751.1" width="6.7" height="13.0" rx="0" stroke="#777" stroke-width="1.0" fill="none"/>
<text transform="translate(129.4,765.7) rotate(-90)" font-size="9.75" fill="#1a1a1a" stroke="#1a1a1a" stroke-width="0.25" font-weight="normal" textLength="18.9" lengthAdjust="spacingAndGlyphs">SW6</text>
<circle cx="151.0" cy="754.4" r="12.50" stroke="#222" stroke-width="1.3" fill="none"/>
<text x="62.4" y="800.1" font-size="11.87" fill="#1a1a1a" stroke="#1a1a1a" stroke-width="0.25" font-weight="normal" textLength="19.1" lengthAdjust="spacingAndGlyphs">OFF</text>
<text x="90.5" y="800.1" font-size="11.87" fill="#1a1a1a" stroke="#1a1a1a" stroke-width="0.25" font-weight="normal" textLength="14.6" lengthAdjust="spacingAndGlyphs">ON</text>
<text x="67.9" y="810.3" font-size="12.93" fill="#1a1a1a" stroke="#1a1a1a" stroke-width="0.25" font-weight="normal" textLength="31.4" lengthAdjust="spacingAndGlyphs">Power</text>
<path d="M181.3,444.0 Q181.3,442.0 183.3,442.0 L197.0,442.0 Q198.1,442.0 198.1,443.8 L198.1,446.8 Q198.1,448.1 200.0,448.1 Q201.9,448.1 201.9,446.8 L201.9,443.8 Q201.9,442.0 203.0,442.0 L217.3,442.0 Q218.4,442.0 218.4,443.8 L218.4,446.8 Q218.4,448.1 220.3,448.1 Q222.2,448.1 222.2,446.8 L222.2,443.8 Q222.2,442.0 223.3,442.0 L237.6,442.0 Q238.7,442.0 238.7,443.8 L238.7,446.8 Q238.7,448.1 240.6,448.1 Q242.5,448.1 242.5,446.8 L242.5,443.8 Q242.5,442.0 243.6,442.0 L257.8,442.0 Q258.9,442.0 258.9,443.8 L258.9,446.8 Q258.9,448.1 260.8,448.1 Q262.7,448.1 262.7,446.8 L262.7,443.8 Q262.7,442.0 263.8,442.0 L278.1,442.0 Q279.2,442.0 279.2,443.8 L279.2,446.8 Q279.2,448.1 281.1,448.1 Q283.0,448.1 283.0,446.8 L283.0,443.8 Q283.0,442.0 284.1,442.0 L298.4,442.0 Q299.5,442.0 299.5,443.8 L299.5,446.8 Q299.5,448.1 301.4,448.1 Q303.3,448.1 303.3,446.8 L303.3,443.8 Q303.3,442.0 304.4,442.0 L318.7,442.0 Q319.8,442.0 319.8,443.8 L319.8,446.8 Q319.8,448.1 321.7,448.1 Q323.6,448.1 323.6,446.8 L323.6,443.8 Q323.6,442.0 324.7,442.0 L338.5,442.0 Q340.5,442.0 340.5,444.0 L340.5,459.3 Q340.5,461.3 338.5,461.3 L324.7,461.3 Q323.6,461.3 323.6,459.5 L323.6,456.6 Q323.6,455.3 321.7,455.3 Q319.8,455.3 319.8,456.6 L319.8,459.5 Q319.8,461.3 318.7,461.3 L304.4,461.3 Q303.3,461.3 303.3,459.5 L303.3,456.6 Q303.3,455.3 301.4,455.3 Q299.5,455.3 299.5,456.6 L299.5,459.5 Q299.5,461.3 298.4,461.3 L284.1,461.3 Q283.0,461.3 283.0,459.5 L283.0,456.6 Q283.0,455.3 281.1,455.3 Q279.2,455.3 279.2,456.6 L279.2,459.5 Q279.2,461.3 278.1,461.3 L263.8,461.3 Q262.7,461.3 262.7,459.5 L262.7,456.6 Q262.7,455.3 260.8,455.3 Q258.9,455.3 258.9,456.6 L258.9,459.5 Q258.9,461.3 257.8,461.3 L243.6,461.3 Q242.5,461.3 242.5,459.5 L242.5,456.6 Q242.5,455.3 240.6,455.3 Q238.7,455.3 238.7,456.6 L238.7,459.5 Q238.7,461.3 237.6,461.3 L223.3,461.3 Q222.2,461.3 222.2,459.5 L222.2,456.6 Q222.2,455.3 220.3,455.3 Q218.4,455.3 218.4,456.6 L218.4,459.5 Q218.4,461.3 217.3,461.3 L203.0,461.3 Q201.9,461.3 201.9,459.5 L201.9,456.6 Q201.9,455.3 200.0,455.3 Q198.1,455.3 198.1,456.6 L198.1,459.5 Q198.1,461.3 197.0,461.3 L183.3,461.3 Q181.3,461.3 181.3,459.3 Z" stroke="#8c8c8c" stroke-width="0.8" fill="none"/>
<rect x="187.4" y="449.5" width="5.0" height="5.0" rx="0" stroke="#8c8c8c" stroke-width="0.8" fill="none"/>
<path d="M187.0,461.3 L187.0,465.4 A2.9,2.9 0 0 0 192.8,465.4 L192.8,461.3" stroke="#8c8c8c" stroke-width="0.8" fill="none"/>
<rect x="207.7" y="449.5" width="5.0" height="5.0" rx="0" stroke="#8c8c8c" stroke-width="0.8" fill="none"/>
<path d="M207.3,442.0 L207.3,437.9 A2.9,2.9 0 0 1 213.1,437.9 L213.1,442.0" stroke="#8c8c8c" stroke-width="0.8" fill="none"/>
<rect x="227.9" y="449.5" width="5.0" height="5.0" rx="0" stroke="#8c8c8c" stroke-width="0.8" fill="none"/>
<path d="M227.5,461.3 L227.5,465.4 A2.9,2.9 0 0 0 233.3,465.4 L233.3,461.3" stroke="#8c8c8c" stroke-width="0.8" fill="none"/>
<rect x="248.2" y="449.5" width="5.0" height="5.0" rx="0" stroke="#8c8c8c" stroke-width="0.8" fill="none"/>
<path d="M247.8,442.0 L247.8,437.9 A2.9,2.9 0 0 1 253.6,437.9 L253.6,442.0" stroke="#8c8c8c" stroke-width="0.8" fill="none"/>
<rect x="268.5" y="449.5" width="5.0" height="5.0" rx="0" stroke="#8c8c8c" stroke-width="0.8" fill="none"/>
<path d="M268.1,461.3 L268.1,465.4 A2.9,2.9 0 0 0 273.9,465.4 L273.9,461.3" stroke="#8c8c8c" stroke-width="0.8" fill="none"/>
<rect x="288.8" y="449.5" width="5.0" height="5.0" rx="0" stroke="#8c8c8c" stroke-width="0.8" fill="none"/>
<path d="M288.4,442.0 L288.4,437.9 A2.9,2.9 0 0 1 294.1,437.9 L294.1,442.0" stroke="#8c8c8c" stroke-width="0.8" fill="none"/>
<rect x="309.0" y="449.5" width="5.0" height="5.0" rx="0" stroke="#8c8c8c" stroke-width="0.8" fill="none"/>
<path d="M308.6,461.3 L308.6,465.4 A2.9,2.9 0 0 0 314.4,465.4 L314.4,461.3" stroke="#8c8c8c" stroke-width="0.8" fill="none"/>
<rect x="329.3" y="449.5" width="5.0" height="5.0" rx="0" stroke="#8c8c8c" stroke-width="0.8" fill="none"/>
<path d="M328.9,442.0 L328.9,437.9 A2.9,2.9 0 0 1 334.7,437.9 L334.7,442.0" stroke="#8c8c8c" stroke-width="0.8" fill="none"/>
<text transform="translate(351.0,459.4) rotate(-90)" font-size="9.54" fill="#1a1a1a" stroke="#1a1a1a" stroke-width="0.25" font-weight="normal" textLength="12.8" lengthAdjust="spacingAndGlyphs">P20</text>
<text transform="translate(189.1,490.9) rotate(-90)" font-size="9.75" fill="#1a1a1a" stroke="#1a1a1a" stroke-width="0.25" font-weight="normal" textLength="15.8" lengthAdjust="spacingAndGlyphs">VDD</text>
<text transform="translate(197.5,490.2) rotate(-90)" font-size="9.75" fill="#1a1a1a" stroke="#1a1a1a" stroke-width="0.25" font-weight="normal" textLength="13.1" lengthAdjust="spacingAndGlyphs">nRF</text>
<text transform="translate(214.9,491.9) rotate(-90)" font-size="9.75" fill="#1a1a1a" stroke="#1a1a1a" stroke-width="0.25" font-weight="normal" textLength="19.2" lengthAdjust="spacingAndGlyphs">V D D</text>
<text transform="translate(234.4,490.9) rotate(-90)" font-size="9.75" fill="#1a1a1a" stroke="#1a1a1a" stroke-width="0.25" font-weight="normal" textLength="15.1" lengthAdjust="spacingAndGlyphs">VTG</text>
<text transform="translate(250.1,491.5) rotate(-90)" font-size="9.75" fill="#1a1a1a" stroke="#1a1a1a" stroke-width="0.25" font-weight="normal" textLength="16.8" lengthAdjust="spacingAndGlyphs">SWD</text>
<text transform="translate(258.1,486.8) rotate(-90)" font-size="9.75" fill="#1a1a1a" stroke="#1a1a1a" stroke-width="0.25" font-weight="normal" textLength="7.4" lengthAdjust="spacingAndGlyphs">IO</text>
<text transform="translate(269.9,491.5) rotate(-90)" font-size="9.75" fill="#1a1a1a" stroke="#1a1a1a" stroke-width="0.25" font-weight="normal" textLength="16.8" lengthAdjust="spacingAndGlyphs">SWD</text>
<text transform="translate(278.6,490.2) rotate(-90)" font-size="9.75" fill="#1a1a1a" stroke="#1a1a1a" stroke-width="0.25" font-weight="normal" textLength="13.8" lengthAdjust="spacingAndGlyphs">CLK</text>
<text transform="translate(295.1,491.9) rotate(-90)" font-size="9.75" fill="#1a1a1a" stroke="#1a1a1a" stroke-width="0.25" font-weight="normal" textLength="17.2" lengthAdjust="spacingAndGlyphs">SWO</text>
<text transform="translate(315.1,495.0) rotate(-90)" font-size="9.75" fill="#1a1a1a" stroke="#1a1a1a" stroke-width="0.25" font-weight="normal" textLength="23.5" lengthAdjust="spacingAndGlyphs">RESET</text>
<text transform="translate(335.8,490.8) rotate(-90)" font-size="9.75" fill="#1a1a1a" stroke="#1a1a1a" stroke-width="0.25" font-weight="normal" textLength="15.7" lengthAdjust="spacingAndGlyphs">GND</text>
<text transform="translate(344.0,497.5) rotate(-90)" font-size="9.75" fill="#1a1a1a" stroke="#1a1a1a" stroke-width="0.25" font-weight="normal" textLength="28.5" lengthAdjust="spacingAndGlyphs">DETECT</text>
<rect x="242.3" y="538.2" width="111.1" height="110.7" rx="0" stroke="#8c8c8c" stroke-width="0.8" fill="none"/>
<path d="M249.05,538.2 L249.05,530.2 Q250.20,528.9 251.35,530.2 L251.35,538.2" stroke="#888" stroke-width="0.75" fill="none"/>
<path d="M249.05,649.0 L249.05,657.8 Q250.20,659.1 251.35,657.8 L251.35,649.0" stroke="#888" stroke-width="0.75" fill="none"/>
<path d="M242.3,544.45 L233.8,544.45 Q232.5,545.60 233.8,546.75 L242.3,546.75" stroke="#888" stroke-width="0.75" fill="none"/>
<path d="M353.4,544.45 L361.9,544.45 Q363.2,545.60 361.9,546.75 L353.4,546.75" stroke="#888" stroke-width="0.75" fill="none"/>
<path d="M253.01,538.2 L253.01,530.2 Q254.16,528.9 255.31,530.2 L255.31,538.2" stroke="#888" stroke-width="0.75" fill="none"/>
<path d="M253.01,649.0 L253.01,657.8 Q254.16,659.1 255.31,657.8 L255.31,649.0" stroke="#888" stroke-width="0.75" fill="none"/>
<path d="M242.3,548.46 L233.8,548.46 Q232.5,549.61 233.8,550.76 L242.3,550.76" stroke="#888" stroke-width="0.75" fill="none"/>
<path d="M353.4,548.46 L361.9,548.46 Q363.2,549.61 361.9,550.76 L353.4,550.76" stroke="#888" stroke-width="0.75" fill="none"/>
<path d="M256.97,538.2 L256.97,530.2 Q258.12,528.9 259.27,530.2 L259.27,538.2" stroke="#888" stroke-width="0.75" fill="none"/>
<path d="M256.97,649.0 L256.97,657.8 Q258.12,659.1 259.27,657.8 L259.27,649.0" stroke="#888" stroke-width="0.75" fill="none"/>
<path d="M242.3,552.47 L233.8,552.47 Q232.5,553.62 233.8,554.77 L242.3,554.77" stroke="#888" stroke-width="0.75" fill="none"/>
<path d="M353.4,552.47 L361.9,552.47 Q363.2,553.62 361.9,554.77 L353.4,554.77" stroke="#888" stroke-width="0.75" fill="none"/>
<path d="M260.93,538.2 L260.93,530.2 Q262.08,528.9 263.23,530.2 L263.23,538.2" stroke="#888" stroke-width="0.75" fill="none"/>
<path d="M260.93,649.0 L260.93,657.8 Q262.08,659.1 263.23,657.8 L263.23,649.0" stroke="#888" stroke-width="0.75" fill="none"/>
<path d="M242.3,556.48 L233.8,556.48 Q232.5,557.63 233.8,558.78 L242.3,558.78" stroke="#888" stroke-width="0.75" fill="none"/>
<path d="M353.4,556.48 L361.9,556.48 Q363.2,557.63 361.9,558.78 L353.4,558.78" stroke="#888" stroke-width="0.75" fill="none"/>
<path d="M264.89,538.2 L264.89,530.2 Q266.04,528.9 267.19,530.2 L267.19,538.2" stroke="#888" stroke-width="0.75" fill="none"/>
<path d="M264.89,649.0 L264.89,657.8 Q266.04,659.1 267.19,657.8 L267.19,649.0" stroke="#888" stroke-width="0.75" fill="none"/>
<path d="M242.3,560.49 L233.8,560.49 Q232.5,561.64 233.8,562.79 L242.3,562.79" stroke="#888" stroke-width="0.75" fill="none"/>
<path d="M353.4,560.49 L361.9,560.49 Q363.2,561.64 361.9,562.79 L353.4,562.79" stroke="#888" stroke-width="0.75" fill="none"/>
<path d="M268.85,538.2 L268.85,530.2 Q270.00,528.9 271.15,530.2 L271.15,538.2" stroke="#888" stroke-width="0.75" fill="none"/>
<path d="M268.85,649.0 L268.85,657.8 Q270.00,659.1 271.15,657.8 L271.15,649.0" stroke="#888" stroke-width="0.75" fill="none"/>
<path d="M242.3,564.50 L233.8,564.50 Q232.5,565.65 233.8,566.80 L242.3,566.80" stroke="#888" stroke-width="0.75" fill="none"/>
<path d="M353.4,564.50 L361.9,564.50 Q363.2,565.65 361.9,566.80 L353.4,566.80" stroke="#888" stroke-width="0.75" fill="none"/>
<path d="M272.81,538.2 L272.81,530.2 Q273.96,528.9 275.11,530.2 L275.11,538.2" stroke="#888" stroke-width="0.75" fill="none"/>
<path d="M272.81,649.0 L272.81,657.8 Q273.96,659.1 275.11,657.8 L275.11,649.0" stroke="#888" stroke-width="0.75" fill="none"/>
<path d="M242.3,568.51 L233.8,568.51 Q232.5,569.66 233.8,570.81 L242.3,570.81" stroke="#888" stroke-width="0.75" fill="none"/>
<path d="M353.4,568.51 L361.9,568.51 Q363.2,569.66 361.9,570.81 L353.4,570.81" stroke="#888" stroke-width="0.75" fill="none"/>
<path d="M276.77,538.2 L276.77,530.2 Q277.92,528.9 279.07,530.2 L279.07,538.2" stroke="#888" stroke-width="0.75" fill="none"/>
<path d="M276.77,649.0 L276.77,657.8 Q277.92,659.1 279.07,657.8 L279.07,649.0" stroke="#888" stroke-width="0.75" fill="none"/>
<path d="M242.3,572.52 L233.8,572.52 Q232.5,573.67 233.8,574.82 L242.3,574.82" stroke="#888" stroke-width="0.75" fill="none"/>
<path d="M353.4,572.52 L361.9,572.52 Q363.2,573.67 361.9,574.82 L353.4,574.82" stroke="#888" stroke-width="0.75" fill="none"/>
<path d="M280.73,538.2 L280.73,530.2 Q281.88,528.9 283.03,530.2 L283.03,538.2" stroke="#888" stroke-width="0.75" fill="none"/>
<path d="M280.73,649.0 L280.73,657.8 Q281.88,659.1 283.03,657.8 L283.03,649.0" stroke="#888" stroke-width="0.75" fill="none"/>
<path d="M242.3,576.53 L233.8,576.53 Q232.5,577.68 233.8,578.83 L242.3,578.83" stroke="#888" stroke-width="0.75" fill="none"/>
<path d="M353.4,576.53 L361.9,576.53 Q363.2,577.68 361.9,578.83 L353.4,578.83" stroke="#888" stroke-width="0.75" fill="none"/>
<path d="M284.69,538.2 L284.69,530.2 Q285.84,528.9 286.99,530.2 L286.99,538.2" stroke="#888" stroke-width="0.75" fill="none"/>
<path d="M284.69,649.0 L284.69,657.8 Q285.84,659.1 286.99,657.8 L286.99,649.0" stroke="#888" stroke-width="0.75" fill="none"/>
<path d="M242.3,580.54 L233.8,580.54 Q232.5,581.69 233.8,582.84 L242.3,582.84" stroke="#888" stroke-width="0.75" fill="none"/>
<path d="M353.4,580.54 L361.9,580.54 Q363.2,581.69 361.9,582.84 L353.4,582.84" stroke="#888" stroke-width="0.75" fill="none"/>
<path d="M288.65,538.2 L288.65,530.2 Q289.80,528.9 290.95,530.2 L290.95,538.2" stroke="#888" stroke-width="0.75" fill="none"/>
<path d="M288.65,649.0 L288.65,657.8 Q289.80,659.1 290.95,657.8 L290.95,649.0" stroke="#888" stroke-width="0.75" fill="none"/>
<path d="M242.3,584.55 L233.8,584.55 Q232.5,585.70 233.8,586.85 L242.3,586.85" stroke="#888" stroke-width="0.75" fill="none"/>
<path d="M353.4,584.55 L361.9,584.55 Q363.2,585.70 361.9,586.85 L353.4,586.85" stroke="#888" stroke-width="0.75" fill="none"/>
<path d="M292.61,538.2 L292.61,530.2 Q293.76,528.9 294.91,530.2 L294.91,538.2" stroke="#888" stroke-width="0.75" fill="none"/>
<path d="M292.61,649.0 L292.61,657.8 Q293.76,659.1 294.91,657.8 L294.91,649.0" stroke="#888" stroke-width="0.75" fill="none"/>
<path d="M242.3,588.56 L233.8,588.56 Q232.5,589.71 233.8,590.86 L242.3,590.86" stroke="#888" stroke-width="0.75" fill="none"/>
<path d="M353.4,588.56 L361.9,588.56 Q363.2,589.71 361.9,590.86 L353.4,590.86" stroke="#888" stroke-width="0.75" fill="none"/>
<path d="M296.57,538.2 L296.57,530.2 Q297.72,528.9 298.87,530.2 L298.87,538.2" stroke="#888" stroke-width="0.75" fill="none"/>
<path d="M296.57,649.0 L296.57,657.8 Q297.72,659.1 298.87,657.8 L298.87,649.0" stroke="#888" stroke-width="0.75" fill="none"/>
<path d="M242.3,592.57 L233.8,592.57 Q232.5,593.72 233.8,594.87 L242.3,594.87" stroke="#888" stroke-width="0.75" fill="none"/>
<path d="M353.4,592.57 L361.9,592.57 Q363.2,593.72 361.9,594.87 L353.4,594.87" stroke="#888" stroke-width="0.75" fill="none"/>
<path d="M300.53,538.2 L300.53,530.2 Q301.68,528.9 302.83,530.2 L302.83,538.2" stroke="#888" stroke-width="0.75" fill="none"/>
<path d="M300.53,649.0 L300.53,657.8 Q301.68,659.1 302.83,657.8 L302.83,649.0" stroke="#888" stroke-width="0.75" fill="none"/>
<path d="M242.3,596.58 L233.8,596.58 Q232.5,597.73 233.8,598.88 L242.3,598.88" stroke="#888" stroke-width="0.75" fill="none"/>
<path d="M353.4,596.58 L361.9,596.58 Q363.2,597.73 361.9,598.88 L353.4,598.88" stroke="#888" stroke-width="0.75" fill="none"/>
<path d="M304.49,538.2 L304.49,530.2 Q305.64,528.9 306.79,530.2 L306.79,538.2" stroke="#888" stroke-width="0.75" fill="none"/>
<path d="M304.49,649.0 L304.49,657.8 Q305.64,659.1 306.79,657.8 L306.79,649.0" stroke="#888" stroke-width="0.75" fill="none"/>
<path d="M242.3,600.59 L233.8,600.59 Q232.5,601.74 233.8,602.89 L242.3,602.89" stroke="#888" stroke-width="0.75" fill="none"/>
<path d="M353.4,600.59 L361.9,600.59 Q363.2,601.74 361.9,602.89 L353.4,602.89" stroke="#888" stroke-width="0.75" fill="none"/>
<path d="M308.45,538.2 L308.45,530.2 Q309.60,528.9 310.75,530.2 L310.75,538.2" stroke="#888" stroke-width="0.75" fill="none"/>
<path d="M308.45,649.0 L308.45,657.8 Q309.60,659.1 310.75,657.8 L310.75,649.0" stroke="#888" stroke-width="0.75" fill="none"/>
<path d="M242.3,604.60 L233.8,604.60 Q232.5,605.75 233.8,606.90 L242.3,606.90" stroke="#888" stroke-width="0.75" fill="none"/>
<path d="M353.4,604.60 L361.9,604.60 Q363.2,605.75 361.9,606.90 L353.4,606.90" stroke="#888" stroke-width="0.75" fill="none"/>
<path d="M312.41,538.2 L312.41,530.2 Q313.56,528.9 314.71,530.2 L314.71,538.2" stroke="#888" stroke-width="0.75" fill="none"/>
<path d="M312.41,649.0 L312.41,657.8 Q313.56,659.1 314.71,657.8 L314.71,649.0" stroke="#888" stroke-width="0.75" fill="none"/>
<path d="M242.3,608.61 L233.8,608.61 Q232.5,609.76 233.8,610.91 L242.3,610.91" stroke="#888" stroke-width="0.75" fill="none"/>
<path d="M353.4,608.61 L361.9,608.61 Q363.2,609.76 361.9,610.91 L353.4,610.91" stroke="#888" stroke-width="0.75" fill="none"/>
<path d="M316.37,538.2 L316.37,530.2 Q317.52,528.9 318.67,530.2 L318.67,538.2" stroke="#888" stroke-width="0.75" fill="none"/>
<path d="M316.37,649.0 L316.37,657.8 Q317.52,659.1 318.67,657.8 L318.67,649.0" stroke="#888" stroke-width="0.75" fill="none"/>
<path d="M242.3,612.62 L233.8,612.62 Q232.5,613.77 233.8,614.92 L242.3,614.92" stroke="#888" stroke-width="0.75" fill="none"/>
<path d="M353.4,612.62 L361.9,612.62 Q363.2,613.77 361.9,614.92 L353.4,614.92" stroke="#888" stroke-width="0.75" fill="none"/>
<path d="M320.33,538.2 L320.33,530.2 Q321.48,528.9 322.63,530.2 L322.63,538.2" stroke="#888" stroke-width="0.75" fill="none"/>
<path d="M320.33,649.0 L320.33,657.8 Q321.48,659.1 322.63,657.8 L322.63,649.0" stroke="#888" stroke-width="0.75" fill="none"/>
<path d="M242.3,616.63 L233.8,616.63 Q232.5,617.78 233.8,618.93 L242.3,618.93" stroke="#888" stroke-width="0.75" fill="none"/>
<path d="M353.4,616.63 L361.9,616.63 Q363.2,617.78 361.9,618.93 L353.4,618.93" stroke="#888" stroke-width="0.75" fill="none"/>
<path d="M324.29,538.2 L324.29,530.2 Q325.44,528.9 326.59,530.2 L326.59,538.2" stroke="#888" stroke-width="0.75" fill="none"/>
<path d="M324.29,649.0 L324.29,657.8 Q325.44,659.1 326.59,657.8 L326.59,649.0" stroke="#888" stroke-width="0.75" fill="none"/>
<path d="M242.3,620.64 L233.8,620.64 Q232.5,621.79 233.8,622.94 L242.3,622.94" stroke="#888" stroke-width="0.75" fill="none"/>
<path d="M353.4,620.64 L361.9,620.64 Q363.2,621.79 361.9,622.94 L353.4,622.94" stroke="#888" stroke-width="0.75" fill="none"/>
<path d="M328.25,538.2 L328.25,530.2 Q329.40,528.9 330.55,530.2 L330.55,538.2" stroke="#888" stroke-width="0.75" fill="none"/>
<path d="M328.25,649.0 L328.25,657.8 Q329.40,659.1 330.55,657.8 L330.55,649.0" stroke="#888" stroke-width="0.75" fill="none"/>
<path d="M242.3,624.65 L233.8,624.65 Q232.5,625.80 233.8,626.95 L242.3,626.95" stroke="#888" stroke-width="0.75" fill="none"/>
<path d="M353.4,624.65 L361.9,624.65 Q363.2,625.80 361.9,626.95 L353.4,626.95" stroke="#888" stroke-width="0.75" fill="none"/>
<path d="M332.21,538.2 L332.21,530.2 Q333.36,528.9 334.51,530.2 L334.51,538.2" stroke="#888" stroke-width="0.75" fill="none"/>
<path d="M332.21,649.0 L332.21,657.8 Q333.36,659.1 334.51,657.8 L334.51,649.0" stroke="#888" stroke-width="0.75" fill="none"/>
<path d="M242.3,628.66 L233.8,628.66 Q232.5,629.81 233.8,630.96 L242.3,630.96" stroke="#888" stroke-width="0.75" fill="none"/>
<path d="M353.4,628.66 L361.9,628.66 Q363.2,629.81 361.9,630.96 L353.4,630.96" stroke="#888" stroke-width="0.75" fill="none"/>
<path d="M336.17,538.2 L336.17,530.2 Q337.32,528.9 338.47,530.2 L338.47,538.2" stroke="#888" stroke-width="0.75" fill="none"/>
<path d="M336.17,649.0 L336.17,657.8 Q337.32,659.1 338.47,657.8 L338.47,649.0" stroke="#888" stroke-width="0.75" fill="none"/>
<path d="M242.3,632.67 L233.8,632.67 Q232.5,633.82 233.8,634.97 L242.3,634.97" stroke="#888" stroke-width="0.75" fill="none"/>
<path d="M353.4,632.67 L361.9,632.67 Q363.2,633.82 361.9,634.97 L353.4,634.97" stroke="#888" stroke-width="0.75" fill="none"/>
<path d="M340.13,538.2 L340.13,530.2 Q341.28,528.9 342.43,530.2 L342.43,538.2" stroke="#888" stroke-width="0.75" fill="none"/>
<path d="M340.13,649.0 L340.13,657.8 Q341.28,659.1 342.43,657.8 L342.43,649.0" stroke="#888" stroke-width="0.75" fill="none"/>
<path d="M242.3,636.68 L233.8,636.68 Q232.5,637.83 233.8,638.98 L242.3,638.98" stroke="#888" stroke-width="0.75" fill="none"/>
<path d="M353.4,636.68 L361.9,636.68 Q363.2,637.83 361.9,638.98 L353.4,638.98" stroke="#888" stroke-width="0.75" fill="none"/>
<path d="M344.09,538.2 L344.09,530.2 Q345.24,528.9 346.39,530.2 L346.39,538.2" stroke="#888" stroke-width="0.75" fill="none"/>
<path d="M344.09,649.0 L344.09,657.8 Q345.24,659.1 346.39,657.8 L346.39,649.0" stroke="#888" stroke-width="0.75" fill="none"/>
<path d="M242.3,640.69 L233.8,640.69 Q232.5,641.84 233.8,642.99 L242.3,642.99" stroke="#888" stroke-width="0.75" fill="none"/>
<path d="M353.4,640.69 L361.9,640.69 Q363.2,641.84 361.9,642.99 L353.4,642.99" stroke="#888" stroke-width="0.75" fill="none"/>
<line x1="248.6" y1="533.6" x2="346.8" y2="533.6" stroke="#999" stroke-width="0.6"/>
<line x1="248.6" y1="653.6" x2="346.8" y2="653.6" stroke="#999" stroke-width="0.6"/>
<line x1="237.4" y1="544.0" x2="237.4" y2="643.4" stroke="#999" stroke-width="0.6"/>
<line x1="357.9" y1="544.0" x2="357.9" y2="643.4" stroke="#999" stroke-width="0.6"/>
<circle cx="248.2" cy="642.9" r="3.80" stroke="#8c8c8c" stroke-width="0.8" fill="none"/>
<circle cx="244.3" cy="654.5" r="2.00" stroke="#8c8c8c" stroke-width="0.8" fill="none"/>
<text x="230.9" y="650.5" font-size="9.12" fill="#1a1a1a" stroke="#1a1a1a" stroke-width="0.25" font-weight="normal" textLength="10.5" lengthAdjust="spacingAndGlyphs">U2</text>
<rect x="206.3" y="627.2" width="11.6" height="12.8" rx="0" stroke="#8c8c8c" stroke-width="0.8" fill="none"/>
<line x1="206.3" y1="630.0" x2="217.9" y2="630.0" stroke="#8c8c8c" stroke-width="0.8"/>
<line x1="206.3" y1="637.2" x2="217.9" y2="637.2" stroke="#8c8c8c" stroke-width="0.8"/>
<text transform="translate(226.8,641.1) rotate(-90)" font-size="9.54" fill="#1a1a1a" stroke="#1a1a1a" stroke-width="0.25" font-weight="normal" textLength="14.6" lengthAdjust="spacingAndGlyphs">LD5</text>
<line x1="209.8" y1="622.0" x2="214.8" y2="622.0" stroke="#555" stroke-width="1.0"/>
<line x1="209.8" y1="647.4" x2="214.8" y2="647.4" stroke="#555" stroke-width="1.0"/>
<line x1="212.3" y1="644.9" x2="212.3" y2="649.9" stroke="#555" stroke-width="1.0"/>
<circle cx="415.7" cy="501.4" r="3.80" stroke="#8c8c8c" stroke-width="0.8" fill="none"/>
<circle cx="432.0" cy="501.4" r="3.80" stroke="#8c8c8c" stroke-width="0.8" fill="none"/>
<circle cx="419.0" cy="511.4" r="3.10" stroke="#8c8c8c" stroke-width="0.8" fill="none"/>
<circle cx="429.1" cy="511.4" r="3.10" stroke="#8c8c8c" stroke-width="0.8" fill="none"/>
<circle cx="419.0" cy="521.5" r="3.10" stroke="#8c8c8c" stroke-width="0.8" fill="none"/>
<circle cx="429.1" cy="521.5" r="3.10" stroke="#8c8c8c" stroke-width="0.8" fill="none"/>
<circle cx="419.0" cy="531.6" r="3.10" stroke="#8c8c8c" stroke-width="0.8" fill="none"/>
<circle cx="429.1" cy="531.6" r="3.10" stroke="#8c8c8c" stroke-width="0.8" fill="none"/>
<circle cx="419.0" cy="541.7" r="3.10" stroke="#8c8c8c" stroke-width="0.8" fill="none"/>
<circle cx="429.1" cy="541.7" r="3.10" stroke="#8c8c8c" stroke-width="0.8" fill="none"/>
<circle cx="419.0" cy="552.0" r="3.10" stroke="#8c8c8c" stroke-width="0.8" fill="none"/>
<circle cx="429.1" cy="552.0" r="3.10" stroke="#8c8c8c" stroke-width="0.8" fill="none"/>
<circle cx="424.0" cy="562.3" r="3.80" stroke="#8c8c8c" stroke-width="0.8" fill="none"/>
<circle cx="566.4" cy="491.9" r="12.80" stroke="#222" stroke-width="1.3" fill="none"/>
<text x="553.0" y="518.6" font-size="9.12" fill="#1a1a1a" stroke="#1a1a1a" stroke-width="0.25" font-weight="normal" textLength="8.7" lengthAdjust="spacingAndGlyphs">P5</text>
<circle cx="530.8" cy="522.2" r="4.00" stroke="#8c8c8c" stroke-width="0.8" fill="none"/>
<path d="M537.3,526.4 Q537.3,523.6 541.0,523.4 Q557,522.6 573.0999999999999,523.4 Q576.8,523.6 576.8,526.4 L576.8,539.5 Q576.8,541.5 573.0,541.6 L562.2,541.7 A0.8,0.8 0 0 0 562.2,543.3 L573.0,543.4 Q576.8,543.5 576.8,545.5 L576.8,559.9 Q576.8,561.9 573.0,562.0 L562.2,562.1 A0.8,0.8 0 0 0 562.2,563.6 L573.0,563.8 Q576.8,563.9 576.8,565.9 L576.8,578.4 Q576.8,581.1999999999999 573.0999999999999,581.4 Q557,582.1999999999999 541.0,581.4 Q537.3,581.1999999999999 537.3,578.4 L537.3,565.9 Q537.3,563.9 541.1,563.8 L551.8,563.6 A0.8,0.8 0 0 0 551.8,562.1 L541.1,562.0 Q537.3,561.9 537.3,559.9 L537.3,545.5 Q537.3,543.5 541.1,543.4 L551.8,543.3 A0.8,0.8 0 0 0 551.8,541.7 L541.1,541.6 Q537.3,541.5 537.3,539.5 Z" stroke="#8c8c8c" stroke-width="0.8" fill="none"/>
<rect x="544.3" y="529.7" width="5.4" height="5.2" rx="0" stroke="#8c8c8c" stroke-width="0.8" fill="none"/>
<rect x="564.3" y="529.7" width="5.4" height="5.2" rx="0" stroke="#8c8c8c" stroke-width="0.8" fill="none"/>
<path d="M537.3,529.1 L532.7,529.1 A3.2,3.2 0 0 0 532.7,535.5 L537.3,535.5" stroke="#8c8c8c" stroke-width="0.8" fill="none"/>
<path d="M576.8,529.1 L581.0,529.1 A3.2,3.2 0 0 1 581.0,535.5 L576.8,535.5" stroke="#8c8c8c" stroke-width="0.8" fill="none"/>
<rect x="544.3" y="550.1" width="5.4" height="5.2" rx="0" stroke="#8c8c8c" stroke-width="0.8" fill="none"/>
<rect x="564.3" y="550.1" width="5.4" height="5.2" rx="0" stroke="#8c8c8c" stroke-width="0.8" fill="none"/>
<path d="M537.3,549.5 L532.7,549.5 A3.2,3.2 0 0 0 532.7,555.9 L537.3,555.9" stroke="#8c8c8c" stroke-width="0.8" fill="none"/>
<path d="M576.8,549.5 L581.0,549.5 A3.2,3.2 0 0 1 581.0,555.9 L576.8,555.9" stroke="#8c8c8c" stroke-width="0.8" fill="none"/>
<rect x="544.3" y="570.5" width="5.4" height="5.2" rx="0" stroke="#8c8c8c" stroke-width="0.8" fill="none"/>
<rect x="564.3" y="570.5" width="5.4" height="5.2" rx="0" stroke="#8c8c8c" stroke-width="0.8" fill="none"/>
<path d="M537.3,569.9 L532.7,569.9 A3.2,3.2 0 0 0 532.7,576.3 L537.3,576.3" stroke="#8c8c8c" stroke-width="0.8" fill="none"/>
<path d="M576.8,569.9 L581.0,569.9 A3.2,3.2 0 0 1 581.0,576.3 L576.8,576.3" stroke="#8c8c8c" stroke-width="0.8" fill="none"/>
<text x="502.8" y="622.7" font-size="9.12" fill="#1a1a1a" stroke="#1a1a1a" stroke-width="0.25" font-weight="normal" textLength="15.2" lengthAdjust="spacingAndGlyphs">P18</text>
<text x="546.3" y="621.9" font-size="11.66" fill="#1a1a1a" stroke="#1a1a1a" stroke-width="0.25" font-weight="normal">1</text>
<rect x="504.1" y="636.6" width="48.1" height="27.0" rx="0" stroke="#8c8c8c" stroke-width="0.8" fill="none"/>
<rect x="506.4" y="643.5" width="3.2" height="3.2" rx="0" stroke="#8c8c8c" stroke-width="0.8" fill="none"/>
<rect x="506.4" y="653.3" width="3.2" height="3.2" rx="0" stroke="#8c8c8c" stroke-width="0.8" fill="none"/>
<path d="M506.4,636.6 L506.4,630.4 A1.6,1.6 0 0 1 509.6,630.4 L509.6,636.6" stroke="#8c8c8c" stroke-width="0.8" fill="none"/>
<path d="M506.4,663.6 L506.4,669.7 A1.6,1.6 0 0 0 509.6,669.7 L509.6,663.6" stroke="#8c8c8c" stroke-width="0.8" fill="none"/>
<rect x="516.4" y="643.5" width="3.2" height="3.2" rx="0" stroke="#8c8c8c" stroke-width="0.8" fill="none"/>
<rect x="516.4" y="653.3" width="3.2" height="3.2" rx="0" stroke="#8c8c8c" stroke-width="0.8" fill="none"/>
<path d="M516.4,636.6 L516.4,630.4 A1.6,1.6 0 0 1 519.6,630.4 L519.6,636.6" stroke="#8c8c8c" stroke-width="0.8" fill="none"/>
<path d="M516.4,663.6 L516.4,669.7 A1.6,1.6 0 0 0 519.6,669.7 L519.6,663.6" stroke="#8c8c8c" stroke-width="0.8" fill="none"/>
<rect x="526.4" y="643.5" width="3.2" height="3.2" rx="0" stroke="#8c8c8c" stroke-width="0.8" fill="none"/>
<rect x="526.4" y="653.3" width="3.2" height="3.2" rx="0" stroke="#8c8c8c" stroke-width="0.8" fill="none"/>
<path d="M526.4,636.6 L526.4,630.4 A1.6,1.6 0 0 1 529.6,630.4 L529.6,636.6" stroke="#8c8c8c" stroke-width="0.8" fill="none"/>
<path d="M526.4,663.6 L526.4,669.7 A1.6,1.6 0 0 0 529.6,669.7 L529.6,663.6" stroke="#8c8c8c" stroke-width="0.8" fill="none"/>
<rect x="536.3" y="643.5" width="3.2" height="3.2" rx="0" stroke="#8c8c8c" stroke-width="0.8" fill="none"/>
<rect x="536.3" y="653.3" width="3.2" height="3.2" rx="0" stroke="#8c8c8c" stroke-width="0.8" fill="none"/>
<path d="M536.3,636.6 L536.3,630.4 A1.6,1.6 0 0 1 539.5,630.4 L539.5,636.6" stroke="#8c8c8c" stroke-width="0.8" fill="none"/>
<path d="M536.3,663.6 L536.3,669.7 A1.6,1.6 0 0 0 539.5,669.7 L539.5,663.6" stroke="#8c8c8c" stroke-width="0.8" fill="none"/>
<rect x="546.3" y="643.5" width="3.2" height="3.2" rx="0" stroke="#8c8c8c" stroke-width="0.8" fill="none"/>
<rect x="546.3" y="653.3" width="3.2" height="3.2" rx="0" stroke="#8c8c8c" stroke-width="0.8" fill="none"/>
<path d="M546.3,636.6 L546.3,630.4 A1.6,1.6 0 0 1 549.5,630.4 L549.5,636.6" stroke="#8c8c8c" stroke-width="0.8" fill="none"/>
<path d="M546.3,663.6 L546.3,669.7 A1.6,1.6 0 0 0 549.5,669.7 L549.5,663.6" stroke="#8c8c8c" stroke-width="0.8" fill="none"/>
<text x="504.1" y="688.8" font-size="13.99" fill="#1a1a1a" stroke="#1a1a1a" stroke-width="0.25" font-weight="normal" textLength="46.9" lengthAdjust="spacingAndGlyphs">Debug in</text>
<text x="408.8" y="688.3" font-size="11.87" fill="#1a1a1a" stroke="#1a1a1a" stroke-width="0.25" font-weight="normal" textLength="21.6" lengthAdjust="spacingAndGlyphs">GND</text>
<circle cx="416.3" cy="698.4" r="6.60" stroke="#9a9a9a" stroke-width="1.6" fill="none"/>
<circle cx="565.9" cy="714.1" r="12.90" stroke="#222" stroke-width="1.3" fill="none"/>
<text transform="translate(810.1,397.9) rotate(-90)" font-size="15.12" fill="#1a1a1a" stroke="#1a1a1a" stroke-width="0.25" font-weight="normal" textLength="38.0" lengthAdjust="spacingAndGlyphs">400150</text>
<text x="658.7" y="436.9" font-size="13.14" fill="#1a1a1a" stroke="#1a1a1a" stroke-width="0.25" font-weight="normal" textLength="30.6" lengthAdjust="spacingAndGlyphs">LED 1</text>
<text x="708.7" y="436.9" font-size="13.14" fill="#1a1a1a" stroke="#1a1a1a" stroke-width="0.25" font-weight="normal" textLength="31.3" lengthAdjust="spacingAndGlyphs">LED 2</text>
<text x="658.7" y="466.9" font-size="13.14" fill="#1a1a1a" stroke="#1a1a1a" stroke-width="0.25" font-weight="normal" textLength="30.6" lengthAdjust="spacingAndGlyphs">LED 3</text>
<text x="708.7" y="466.9" font-size="13.14" fill="#1a1a1a" stroke="#1a1a1a" stroke-width="0.25" font-weight="normal" textLength="31.3" lengthAdjust="spacingAndGlyphs">LED 4</text>
<rect x="669.0" y="439.4" width="16.5" height="7.0" rx="0" stroke="#8c8c8c" stroke-width="0.8" fill="none"/>
<line x1="671.4" y1="439.4" x2="671.4" y2="446.4" stroke="#8c8c8c" stroke-width="0.8"/>
<line x1="683.1" y1="439.4" x2="683.1" y2="446.4" stroke="#8c8c8c" stroke-width="0.8"/>
<rect x="719.3" y="439.4" width="16.5" height="7.0" rx="0" stroke="#8c8c8c" stroke-width="0.8" fill="none"/>
<line x1="721.7" y1="439.4" x2="721.7" y2="446.4" stroke="#8c8c8c" stroke-width="0.8"/>
<line x1="733.4" y1="439.4" x2="733.4" y2="446.4" stroke="#8c8c8c" stroke-width="0.8"/>
<rect x="669.0" y="469.7" width="16.5" height="7.0" rx="0" stroke="#8c8c8c" stroke-width="0.8" fill="none"/>
<line x1="671.4" y1="469.7" x2="671.4" y2="476.7" stroke="#8c8c8c" stroke-width="0.8"/>
<line x1="683.1" y1="469.7" x2="683.1" y2="476.7" stroke="#8c8c8c" stroke-width="0.8"/>
<rect x="719.3" y="469.7" width="16.5" height="7.0" rx="0" stroke="#8c8c8c" stroke-width="0.8" fill="none"/>
<line x1="721.7" y1="469.7" x2="721.7" y2="476.7" stroke="#8c8c8c" stroke-width="0.8"/>
<line x1="733.4" y1="469.7" x2="733.4" y2="476.7" stroke="#8c8c8c" stroke-width="0.8"/>
<rect x="626.3" y="484.4" width="138.0" height="111.6" rx="0" stroke="#8c8c8c" stroke-width="0.8" fill="none"/>
<rect x="673.5" y="535.1" width="47.9" height="48.2" rx="0" stroke="#8c8c8c" stroke-width="0.8" fill="none"/>
<path d="M678.80,535.3 L678.80,532.9 Q679.60,531.9 680.40,532.9 L680.40,535.3" stroke="#8a8a8a" stroke-width="0.6" fill="none"/>
<path d="M678.80,583.3 L678.80,585.7 Q679.60,586.7 680.40,585.7 L680.40,583.3" stroke="#8a8a8a" stroke-width="0.6" fill="none"/>
<path d="M673.5,540.70 L671.1,540.70 Q670.1,541.50 671.1,542.30 L673.5,542.30" stroke="#8a8a8a" stroke-width="0.6" fill="none"/>
<path d="M721.4,540.70 L723.8,540.70 Q724.8,541.50 723.8,542.30 L721.4,542.30" stroke="#8a8a8a" stroke-width="0.6" fill="none"/>
<path d="M681.17,535.3 L681.17,532.9 Q681.97,531.9 682.77,532.9 L682.77,535.3" stroke="#8a8a8a" stroke-width="0.6" fill="none"/>
<path d="M681.17,583.3 L681.17,585.7 Q681.97,586.7 682.77,585.7 L682.77,583.3" stroke="#8a8a8a" stroke-width="0.6" fill="none"/>
<path d="M673.5,543.07 L671.1,543.07 Q670.1,543.87 671.1,544.67 L673.5,544.67" stroke="#8a8a8a" stroke-width="0.6" fill="none"/>
<path d="M721.4,543.07 L723.8,543.07 Q724.8,543.87 723.8,544.67 L721.4,544.67" stroke="#8a8a8a" stroke-width="0.6" fill="none"/>
<path d="M683.54,535.3 L683.54,532.9 Q684.34,531.9 685.14,532.9 L685.14,535.3" stroke="#8a8a8a" stroke-width="0.6" fill="none"/>
<path d="M683.54,583.3 L683.54,585.7 Q684.34,586.7 685.14,585.7 L685.14,583.3" stroke="#8a8a8a" stroke-width="0.6" fill="none"/>
<path d="M673.5,545.44 L671.1,545.44 Q670.1,546.24 671.1,547.04 L673.5,547.04" stroke="#8a8a8a" stroke-width="0.6" fill="none"/>
<path d="M721.4,545.44 L723.8,545.44 Q724.8,546.24 723.8,547.04 L721.4,547.04" stroke="#8a8a8a" stroke-width="0.6" fill="none"/>
<path d="M685.91,535.3 L685.91,532.9 Q686.71,531.9 687.51,532.9 L687.51,535.3" stroke="#8a8a8a" stroke-width="0.6" fill="none"/>
<path d="M685.91,583.3 L685.91,585.7 Q686.71,586.7 687.51,585.7 L687.51,583.3" stroke="#8a8a8a" stroke-width="0.6" fill="none"/>
<path d="M673.5,547.81 L671.1,547.81 Q670.1,548.61 671.1,549.41 L673.5,549.41" stroke="#8a8a8a" stroke-width="0.6" fill="none"/>
<path d="M721.4,547.81 L723.8,547.81 Q724.8,548.61 723.8,549.41 L721.4,549.41" stroke="#8a8a8a" stroke-width="0.6" fill="none"/>
<path d="M688.28,535.3 L688.28,532.9 Q689.08,531.9 689.88,532.9 L689.88,535.3" stroke="#8a8a8a" stroke-width="0.6" fill="none"/>
<path d="M688.28,583.3 L688.28,585.7 Q689.08,586.7 689.88,585.7 L689.88,583.3" stroke="#8a8a8a" stroke-width="0.6" fill="none"/>
<path d="M673.5,550.18 L671.1,550.18 Q670.1,550.98 671.1,551.78 L673.5,551.78" stroke="#8a8a8a" stroke-width="0.6" fill="none"/>
<path d="M721.4,550.18 L723.8,550.18 Q724.8,550.98 723.8,551.78 L721.4,551.78" stroke="#8a8a8a" stroke-width="0.6" fill="none"/>
<path d="M690.65,535.3 L690.65,532.9 Q691.45,531.9 692.25,532.9 L692.25,535.3" stroke="#8a8a8a" stroke-width="0.6" fill="none"/>
<path d="M690.65,583.3 L690.65,585.7 Q691.45,586.7 692.25,585.7 L692.25,583.3" stroke="#8a8a8a" stroke-width="0.6" fill="none"/>
<path d="M673.5,552.55 L671.1,552.55 Q670.1,553.35 671.1,554.15 L673.5,554.15" stroke="#8a8a8a" stroke-width="0.6" fill="none"/>
<path d="M721.4,552.55 L723.8,552.55 Q724.8,553.35 723.8,554.15 L721.4,554.15" stroke="#8a8a8a" stroke-width="0.6" fill="none"/>
<path d="M693.02,535.3 L693.02,532.9 Q693.82,531.9 694.62,532.9 L694.62,535.3" stroke="#8a8a8a" stroke-width="0.6" fill="none"/>
<path d="M693.02,583.3 L693.02,585.7 Q693.82,586.7 694.62,585.7 L694.62,583.3" stroke="#8a8a8a" stroke-width="0.6" fill="none"/>
<path d="M673.5,554.92 L671.1,554.92 Q670.1,555.72 671.1,556.52 L673.5,556.52" stroke="#8a8a8a" stroke-width="0.6" fill="none"/>
<path d="M721.4,554.92 L723.8,554.92 Q724.8,555.72 723.8,556.52 L721.4,556.52" stroke="#8a8a8a" stroke-width="0.6" fill="none"/>
<path d="M695.39,535.3 L695.39,532.9 Q696.19,531.9 696.99,532.9 L696.99,535.3" stroke="#8a8a8a" stroke-width="0.6" fill="none"/>
<path d="M695.39,583.3 L695.39,585.7 Q696.19,586.7 696.99,585.7 L696.99,583.3" stroke="#8a8a8a" stroke-width="0.6" fill="none"/>
<path d="M673.5,557.29 L671.1,557.29 Q670.1,558.09 671.1,558.89 L673.5,558.89" stroke="#8a8a8a" stroke-width="0.6" fill="none"/>
<path d="M721.4,557.29 L723.8,557.29 Q724.8,558.09 723.8,558.89 L721.4,558.89" stroke="#8a8a8a" stroke-width="0.6" fill="none"/>
<path d="M697.76,535.3 L697.76,532.9 Q698.56,531.9 699.36,532.9 L699.36,535.3" stroke="#8a8a8a" stroke-width="0.6" fill="none"/>
<path d="M697.76,583.3 L697.76,585.7 Q698.56,586.7 699.36,585.7 L699.36,583.3" stroke="#8a8a8a" stroke-width="0.6" fill="none"/>
<path d="M673.5,559.66 L671.1,559.66 Q670.1,560.46 671.1,561.26 L673.5,561.26" stroke="#8a8a8a" stroke-width="0.6" fill="none"/>
<path d="M721.4,559.66 L723.8,559.66 Q724.8,560.46 723.8,561.26 L721.4,561.26" stroke="#8a8a8a" stroke-width="0.6" fill="none"/>
<path d="M700.13,535.3 L700.13,532.9 Q700.93,531.9 701.73,532.9 L701.73,535.3" stroke="#8a8a8a" stroke-width="0.6" fill="none"/>
<path d="M700.13,583.3 L700.13,585.7 Q700.93,586.7 701.73,585.7 L701.73,583.3" stroke="#8a8a8a" stroke-width="0.6" fill="none"/>
<path d="M673.5,562.03 L671.1,562.03 Q670.1,562.83 671.1,563.63 L673.5,563.63" stroke="#8a8a8a" stroke-width="0.6" fill="none"/>
<path d="M721.4,562.03 L723.8,562.03 Q724.8,562.83 723.8,563.63 L721.4,563.63" stroke="#8a8a8a" stroke-width="0.6" fill="none"/>
<path d="M702.50,535.3 L702.50,532.9 Q703.30,531.9 704.10,532.9 L704.10,535.3" stroke="#8a8a8a" stroke-width="0.6" fill="none"/>
<path d="M702.50,583.3 L702.50,585.7 Q703.30,586.7 704.10,585.7 L704.10,583.3" stroke="#8a8a8a" stroke-width="0.6" fill="none"/>
<path d="M673.5,564.40 L671.1,564.40 Q670.1,565.20 671.1,566.00 L673.5,566.00" stroke="#8a8a8a" stroke-width="0.6" fill="none"/>
<path d="M721.4,564.40 L723.8,564.40 Q724.8,565.20 723.8,566.00 L721.4,566.00" stroke="#8a8a8a" stroke-width="0.6" fill="none"/>
<path d="M704.87,535.3 L704.87,532.9 Q705.67,531.9 706.47,532.9 L706.47,535.3" stroke="#8a8a8a" stroke-width="0.6" fill="none"/>
<path d="M704.87,583.3 L704.87,585.7 Q705.67,586.7 706.47,585.7 L706.47,583.3" stroke="#8a8a8a" stroke-width="0.6" fill="none"/>
<path d="M673.5,566.77 L671.1,566.77 Q670.1,567.57 671.1,568.37 L673.5,568.37" stroke="#8a8a8a" stroke-width="0.6" fill="none"/>
<path d="M721.4,566.77 L723.8,566.77 Q724.8,567.57 723.8,568.37 L721.4,568.37" stroke="#8a8a8a" stroke-width="0.6" fill="none"/>
<path d="M707.24,535.3 L707.24,532.9 Q708.04,531.9 708.84,532.9 L708.84,535.3" stroke="#8a8a8a" stroke-width="0.6" fill="none"/>
<path d="M707.24,583.3 L707.24,585.7 Q708.04,586.7 708.84,585.7 L708.84,583.3" stroke="#8a8a8a" stroke-width="0.6" fill="none"/>
<path d="M673.5,569.14 L671.1,569.14 Q670.1,569.94 671.1,570.74 L673.5,570.74" stroke="#8a8a8a" stroke-width="0.6" fill="none"/>
<path d="M721.4,569.14 L723.8,569.14 Q724.8,569.94 723.8,570.74 L721.4,570.74" stroke="#8a8a8a" stroke-width="0.6" fill="none"/>
<path d="M709.61,535.3 L709.61,532.9 Q710.41,531.9 711.21,532.9 L711.21,535.3" stroke="#8a8a8a" stroke-width="0.6" fill="none"/>
<path d="M709.61,583.3 L709.61,585.7 Q710.41,586.7 711.21,585.7 L711.21,583.3" stroke="#8a8a8a" stroke-width="0.6" fill="none"/>
<path d="M673.5,571.51 L671.1,571.51 Q670.1,572.31 671.1,573.11 L673.5,573.11" stroke="#8a8a8a" stroke-width="0.6" fill="none"/>
<path d="M721.4,571.51 L723.8,571.51 Q724.8,572.31 723.8,573.11 L721.4,573.11" stroke="#8a8a8a" stroke-width="0.6" fill="none"/>
<path d="M711.98,535.3 L711.98,532.9 Q712.78,531.9 713.58,532.9 L713.58,535.3" stroke="#8a8a8a" stroke-width="0.6" fill="none"/>
<path d="M711.98,583.3 L711.98,585.7 Q712.78,586.7 713.58,585.7 L713.58,583.3" stroke="#8a8a8a" stroke-width="0.6" fill="none"/>
<path d="M673.5,573.88 L671.1,573.88 Q670.1,574.68 671.1,575.48 L673.5,575.48" stroke="#8a8a8a" stroke-width="0.6" fill="none"/>
<path d="M721.4,573.88 L723.8,573.88 Q724.8,574.68 723.8,575.48 L721.4,575.48" stroke="#8a8a8a" stroke-width="0.6" fill="none"/>
<path d="M714.35,535.3 L714.35,532.9 Q715.15,531.9 715.95,532.9 L715.95,535.3" stroke="#8a8a8a" stroke-width="0.6" fill="none"/>
<path d="M714.35,583.3 L714.35,585.7 Q715.15,586.7 715.95,585.7 L715.95,583.3" stroke="#8a8a8a" stroke-width="0.6" fill="none"/>
<path d="M673.5,576.25 L671.1,576.25 Q670.1,577.05 671.1,577.85 L673.5,577.85" stroke="#8a8a8a" stroke-width="0.6" fill="none"/>
<path d="M721.4,576.25 L723.8,576.25 Q724.8,577.05 723.8,577.85 L721.4,577.85" stroke="#8a8a8a" stroke-width="0.6" fill="none"/>
<circle cx="681.3" cy="543.2" r="2.50" stroke="#8c8c8c" stroke-width="0.8" fill="none"/>
<text x="695.0" y="527.8" font-size="9.12" fill="#1a1a1a" stroke="#1a1a1a" stroke-width="0.25" font-weight="normal" textLength="10.6" lengthAdjust="spacingAndGlyphs">U1</text>
<text x="773.6" y="546.8" font-size="9.12" fill="#1a1a1a" stroke="#1a1a1a" stroke-width="0.25" font-weight="normal" textLength="7.4" lengthAdjust="spacingAndGlyphs">J1</text>
<rect x="767.5" y="553.1" width="20.0" height="20.5" rx="0" stroke="#8c8c8c" stroke-width="0.8" fill="none"/>
<circle cx="777.4" cy="563.4" r="7.40" stroke="#666" stroke-width="1.1" fill="none"/>
<circle cx="777.4" cy="563.4" r="6.20" stroke="#aaa" stroke-width="0.6" fill="none"/>
<circle cx="777.4" cy="563.4" r="2.60" stroke="#8c8c8c" stroke-width="0.8" fill="none"/>
<path d="M769.5,561.0 Q768.2,563.4 769.5,565.8 M785.3,561.0 Q786.6,563.4 785.3,565.8" stroke="#777" stroke-width="0.9" fill="none"/>
<line x1="769.0" y1="555.0" x2="771.4" y2="555.0" stroke="#999" stroke-width="0.6"/>
<line x1="783.6" y1="555.0" x2="786.0" y2="555.0" stroke="#999" stroke-width="0.6"/>
<line x1="769.0" y1="571.8" x2="771.4" y2="571.8" stroke="#999" stroke-width="0.6"/>
<line x1="783.6" y1="571.8" x2="786.0" y2="571.8" stroke="#999" stroke-width="0.6"/>
<line x1="787.5" y1="558.2" x2="831.4" y2="558.2" stroke="#8c8c8c" stroke-width="0.8"/>
<line x1="787.5" y1="569.0" x2="829.4" y2="569.0" stroke="#8c8c8c" stroke-width="0.8"/>
<path d="M831.4,558.2 L847.5,574.0 L847.5,699.6" stroke="#8c8c8c" stroke-width="0.8" fill="none"/>
<path d="M829.4,569.0 L837.4,577.3 L837.4,699.6 A5.05,5.05 0 0 0 847.5,699.6" stroke="#8c8c8c" stroke-width="0.8" fill="none"/>
<text transform="translate(818.6,629.5) rotate(-90)" font-size="26.6" font-weight="bold" fill="none" stroke="#8a8a8a" stroke-width="0.9" textLength="87" lengthAdjust="spacingAndGlyphs">NORDIC</text>
<text transform="translate(829.8,629.5) rotate(-90)" font-size="12.3" font-weight="bold" fill="#d2d2d2" stroke="#959595" stroke-width="0.45" textLength="83" lengthAdjust="spacingAndGlyphs">SEMICONDUCTOR</text>
<text transform="translate(848.3,669.8) rotate(-90)" font-size="13.78" fill="#1a1a1a" stroke="#1a1a1a" stroke-width="0.25" font-weight="normal" textLength="120.8" lengthAdjust="spacingAndGlyphs">www.nordicsemi.com</text>
<path d="M804.7,632.6 L824.0,632.6 L828.9,640.5 L823.7,650.2 L828.9,658.4 L823.7,667.2 L804.7,667.2 L799.2,658.7 L804.4,649.3 L799.2,641.1 Z" stroke="#8c8c8c" stroke-width="0.9" fill="none"/>
<path d="M824.0,632.6 L804.7,667.2 M799.2,641.1 L808.8,641.4 L804.4,649.3 M828.9,658.4 L819.0,658.4 L823.7,650.2" stroke="#8c8c8c" stroke-width="0.9" fill="none"/>
<rect x="632.2" y="640.6" width="47.9" height="47.6" rx="0" stroke="#8c8c8c" stroke-width="0.8" fill="none"/>
<circle cx="655.8" cy="664.4" r="13.80" stroke="#8c8c8c" stroke-width="0.8" fill="none"/>
<circle cx="638.5" cy="647.0" r="3.30" stroke="#8c8c8c" stroke-width="0.8" fill="none"/>
<circle cx="673.3" cy="647.0" r="3.30" stroke="#8c8c8c" stroke-width="0.8" fill="none"/>
<circle cx="638.5" cy="682.3" r="3.30" stroke="#8c8c8c" stroke-width="0.8" fill="none"/>
<circle cx="673.3" cy="682.3" r="3.30" stroke="#8c8c8c" stroke-width="0.8" fill="none"/>
<path d="M632.2,644.7 L625.7,644.7 A3.3,3.3 0 0 0 625.7,651.3 L632.2,651.3" stroke="#8c8c8c" stroke-width="0.8" fill="none"/>
<line x1="625.6" y1="644.7" x2="625.6" y2="651.3" stroke="#8c8c8c" stroke-width="0.8"/>
<line x1="627.6" y1="644.7" x2="627.6" y2="651.3" stroke="#aaa" stroke-width="0.6"/>
<path d="M680.1,644.7 L686.6,644.7 A3.3,3.3 0 0 1 686.6,651.3 L680.1,651.3" stroke="#8c8c8c" stroke-width="0.8" fill="none"/>
<line x1="683.3" y1="644.7" x2="683.3" y2="651.3" stroke="#8c8c8c" stroke-width="0.8"/>
<line x1="685.3" y1="644.7" x2="685.3" y2="651.3" stroke="#aaa" stroke-width="0.6"/>
<path d="M632.2,678.5 L625.7,678.5 A3.3,3.3 0 0 0 625.7,685.1 L632.2,685.1" stroke="#8c8c8c" stroke-width="0.8" fill="none"/>
<line x1="625.6" y1="678.5" x2="625.6" y2="685.1" stroke="#8c8c8c" stroke-width="0.8"/>
<line x1="627.6" y1="678.5" x2="627.6" y2="685.1" stroke="#aaa" stroke-width="0.6"/>
<path d="M680.1,678.5 L686.6,678.5 A3.3,3.3 0 0 1 686.6,685.1 L680.1,685.1" stroke="#8c8c8c" stroke-width="0.8" fill="none"/>
<line x1="683.3" y1="678.5" x2="683.3" y2="685.1" stroke="#8c8c8c" stroke-width="0.8"/>
<line x1="685.3" y1="678.5" x2="685.3" y2="685.1" stroke="#aaa" stroke-width="0.6"/>
<text x="631.3" y="636.7" font-size="13.78" fill="#1a1a1a" stroke="#1a1a1a" stroke-width="0.25" font-weight="normal" textLength="51.3" lengthAdjust="spacingAndGlyphs">Button 1</text>
<text transform="translate(689.4,672.5) rotate(-90)" font-size="9.96" fill="#1a1a1a" stroke="#1a1a1a" stroke-width="0.25" font-weight="normal" textLength="17.6" lengthAdjust="spacingAndGlyphs">SW1</text>
<rect x="720.8" y="640.6" width="47.9" height="47.6" rx="0" stroke="#8c8c8c" stroke-width="0.8" fill="none"/>
<circle cx="744.4" cy="664.4" r="13.80" stroke="#8c8c8c" stroke-width="0.8" fill="none"/>
<circle cx="727.1" cy="647.0" r="3.30" stroke="#8c8c8c" stroke-width="0.8" fill="none"/>
<circle cx="761.9" cy="647.0" r="3.30" stroke="#8c8c8c" stroke-width="0.8" fill="none"/>
<circle cx="727.1" cy="682.3" r="3.30" stroke="#8c8c8c" stroke-width="0.8" fill="none"/>
<circle cx="761.9" cy="682.3" r="3.30" stroke="#8c8c8c" stroke-width="0.8" fill="none"/>
<path d="M720.8,644.7 L714.3,644.7 A3.3,3.3 0 0 0 714.3,651.3 L720.8,651.3" stroke="#8c8c8c" stroke-width="0.8" fill="none"/>
<line x1="714.2" y1="644.7" x2="714.2" y2="651.3" stroke="#8c8c8c" stroke-width="0.8"/>
<line x1="716.2" y1="644.7" x2="716.2" y2="651.3" stroke="#aaa" stroke-width="0.6"/>
<path d="M768.7,644.7 L775.2,644.7 A3.3,3.3 0 0 1 775.2,651.3 L768.7,651.3" stroke="#8c8c8c" stroke-width="0.8" fill="none"/>
<line x1="771.9" y1="644.7" x2="771.9" y2="651.3" stroke="#8c8c8c" stroke-width="0.8"/>
<line x1="773.9" y1="644.7" x2="773.9" y2="651.3" stroke="#aaa" stroke-width="0.6"/>
<path d="M720.8,678.5 L714.3,678.5 A3.3,3.3 0 0 0 714.3,685.1 L720.8,685.1" stroke="#8c8c8c" stroke-width="0.8" fill="none"/>
<line x1="714.2" y1="678.5" x2="714.2" y2="685.1" stroke="#8c8c8c" stroke-width="0.8"/>
<line x1="716.2" y1="678.5" x2="716.2" y2="685.1" stroke="#aaa" stroke-width="0.6"/>
<path d="M768.7,678.5 L775.2,678.5 A3.3,3.3 0 0 1 775.2,685.1 L768.7,685.1" stroke="#8c8c8c" stroke-width="0.8" fill="none"/>
<line x1="771.9" y1="678.5" x2="771.9" y2="685.1" stroke="#8c8c8c" stroke-width="0.8"/>
<line x1="773.9" y1="678.5" x2="773.9" y2="685.1" stroke="#aaa" stroke-width="0.6"/>
<text x="718.9" y="636.7" font-size="13.78" fill="#1a1a1a" stroke="#1a1a1a" stroke-width="0.25" font-weight="normal" textLength="52.9" lengthAdjust="spacingAndGlyphs">Button 2</text>
<text transform="translate(778.0,672.5) rotate(-90)" font-size="9.96" fill="#1a1a1a" stroke="#1a1a1a" stroke-width="0.25" font-weight="normal" textLength="17.6" lengthAdjust="spacingAndGlyphs">SW2</text>
<rect x="632.2" y="731.5" width="47.9" height="47.6" rx="0" stroke="#8c8c8c" stroke-width="0.8" fill="none"/>
<circle cx="655.8" cy="755.3" r="13.80" stroke="#8c8c8c" stroke-width="0.8" fill="none"/>
<circle cx="638.5" cy="737.9" r="3.30" stroke="#8c8c8c" stroke-width="0.8" fill="none"/>
<circle cx="673.3" cy="737.9" r="3.30" stroke="#8c8c8c" stroke-width="0.8" fill="none"/>
<circle cx="638.5" cy="773.2" r="3.30" stroke="#8c8c8c" stroke-width="0.8" fill="none"/>
<circle cx="673.3" cy="773.2" r="3.30" stroke="#8c8c8c" stroke-width="0.8" fill="none"/>
<path d="M632.2,735.6 L625.7,735.6 A3.3,3.3 0 0 0 625.7,742.2 L632.2,742.2" stroke="#8c8c8c" stroke-width="0.8" fill="none"/>
<line x1="625.6" y1="735.6" x2="625.6" y2="742.2" stroke="#8c8c8c" stroke-width="0.8"/>
<line x1="627.6" y1="735.6" x2="627.6" y2="742.2" stroke="#aaa" stroke-width="0.6"/>
<path d="M680.1,735.6 L686.6,735.6 A3.3,3.3 0 0 1 686.6,742.2 L680.1,742.2" stroke="#8c8c8c" stroke-width="0.8" fill="none"/>
<line x1="683.3" y1="735.6" x2="683.3" y2="742.2" stroke="#8c8c8c" stroke-width="0.8"/>
<line x1="685.3" y1="735.6" x2="685.3" y2="742.2" stroke="#aaa" stroke-width="0.6"/>
<path d="M632.2,769.4 L625.7,769.4 A3.3,3.3 0 0 0 625.7,776.0 L632.2,776.0" stroke="#8c8c8c" stroke-width="0.8" fill="none"/>
<line x1="625.6" y1="769.4" x2="625.6" y2="776.0" stroke="#8c8c8c" stroke-width="0.8"/>
<line x1="627.6" y1="769.4" x2="627.6" y2="776.0" stroke="#aaa" stroke-width="0.6"/>
<path d="M680.1,769.4 L686.6,769.4 A3.3,3.3 0 0 1 686.6,776.0 L680.1,776.0" stroke="#8c8c8c" stroke-width="0.8" fill="none"/>
<line x1="683.3" y1="769.4" x2="683.3" y2="776.0" stroke="#8c8c8c" stroke-width="0.8"/>
<line x1="685.3" y1="769.4" x2="685.3" y2="776.0" stroke="#aaa" stroke-width="0.6"/>
<text x="631.3" y="727.4" font-size="13.78" fill="#1a1a1a" stroke="#1a1a1a" stroke-width="0.25" font-weight="normal" textLength="51.3" lengthAdjust="spacingAndGlyphs">Button 3</text>
<text transform="translate(689.4,763.4) rotate(-90)" font-size="9.96" fill="#1a1a1a" stroke="#1a1a1a" stroke-width="0.25" font-weight="normal" textLength="17.6" lengthAdjust="spacingAndGlyphs">SW3</text>
<rect x="720.8" y="731.5" width="47.9" height="47.6" rx="0" stroke="#8c8c8c" stroke-width="0.8" fill="none"/>
<circle cx="744.4" cy="755.3" r="13.80" stroke="#8c8c8c" stroke-width="0.8" fill="none"/>
<circle cx="727.1" cy="737.9" r="3.30" stroke="#8c8c8c" stroke-width="0.8" fill="none"/>
<circle cx="761.9" cy="737.9" r="3.30" stroke="#8c8c8c" stroke-width="0.8" fill="none"/>
<circle cx="727.1" cy="773.2" r="3.30" stroke="#8c8c8c" stroke-width="0.8" fill="none"/>
<circle cx="761.9" cy="773.2" r="3.30" stroke="#8c8c8c" stroke-width="0.8" fill="none"/>
<path d="M720.8,735.6 L714.3,735.6 A3.3,3.3 0 0 0 714.3,742.2 L720.8,742.2" stroke="#8c8c8c" stroke-width="0.8" fill="none"/>
<line x1="714.2" y1="735.6" x2="714.2" y2="742.2" stroke="#8c8c8c" stroke-width="0.8"/>
<line x1="716.2" y1="735.6" x2="716.2" y2="742.2" stroke="#aaa" stroke-width="0.6"/>
<path d="M768.7,735.6 L775.2,735.6 A3.3,3.3 0 0 1 775.2,742.2 L768.7,742.2" stroke="#8c8c8c" stroke-width="0.8" fill="none"/>
<line x1="771.9" y1="735.6" x2="771.9" y2="742.2" stroke="#8c8c8c" stroke-width="0.8"/>
<line x1="773.9" y1="735.6" x2="773.9" y2="742.2" stroke="#aaa" stroke-width="0.6"/>
<path d="M720.8,769.4 L714.3,769.4 A3.3,3.3 0 0 0 714.3,776.0 L720.8,776.0" stroke="#8c8c8c" stroke-width="0.8" fill="none"/>
<line x1="714.2" y1="769.4" x2="714.2" y2="776.0" stroke="#8c8c8c" stroke-width="0.8"/>
<line x1="716.2" y1="769.4" x2="716.2" y2="776.0" stroke="#aaa" stroke-width="0.6"/>
<path d="M768.7,769.4 L775.2,769.4 A3.3,3.3 0 0 1 775.2,776.0 L768.7,776.0" stroke="#8c8c8c" stroke-width="0.8" fill="none"/>
<line x1="771.9" y1="769.4" x2="771.9" y2="776.0" stroke="#8c8c8c" stroke-width="0.8"/>
<line x1="773.9" y1="769.4" x2="773.9" y2="776.0" stroke="#aaa" stroke-width="0.6"/>
<text x="718.9" y="727.4" font-size="13.78" fill="#1a1a1a" stroke="#1a1a1a" stroke-width="0.25" font-weight="normal" textLength="52.9" lengthAdjust="spacingAndGlyphs">Button 4</text>
<text transform="translate(778.0,763.4) rotate(-90)" font-size="9.96" fill="#1a1a1a" stroke="#1a1a1a" stroke-width="0.25" font-weight="normal" textLength="17.6" lengthAdjust="spacingAndGlyphs">SW4</text>
<circle cx="809.3" cy="755.6" r="12.80" stroke="#222" stroke-width="1.3" fill="none"/>
<text x="161.8" y="726.2" font-size="14.42" fill="#1a1a1a" stroke="#1a1a1a" stroke-width="0.25" font-weight="normal" textLength="88.5" lengthAdjust="spacingAndGlyphs">IF BOOT/RESET</text>
<rect x="183.4" y="731.3" width="48.1" height="47.8" rx="0" stroke="#8c8c8c" stroke-width="0.8" fill="none"/>
<circle cx="207.1" cy="755.2" r="13.80" stroke="#8c8c8c" stroke-width="0.8" fill="none"/>
<circle cx="189.7" cy="737.7" r="3.30" stroke="#8c8c8c" stroke-width="0.8" fill="none"/>
<circle cx="224.7" cy="737.7" r="3.30" stroke="#8c8c8c" stroke-width="0.8" fill="none"/>
<circle cx="189.7" cy="773.2" r="3.30" stroke="#8c8c8c" stroke-width="0.8" fill="none"/>
<circle cx="224.7" cy="773.2" r="3.30" stroke="#8c8c8c" stroke-width="0.8" fill="none"/>
<path d="M183.4,735.4 L176.9,735.4 A3.3,3.3 0 0 0 176.9,742.0 L183.4,742.0" stroke="#8c8c8c" stroke-width="0.8" fill="none"/>
<line x1="176.8" y1="735.4" x2="176.8" y2="742.0" stroke="#8c8c8c" stroke-width="0.8"/>
<line x1="178.8" y1="735.4" x2="178.8" y2="742.0" stroke="#aaa" stroke-width="0.6"/>
<path d="M231.5,735.4 L238.0,735.4 A3.3,3.3 0 0 1 238.0,742.0 L231.5,742.0" stroke="#8c8c8c" stroke-width="0.8" fill="none"/>
<line x1="234.7" y1="735.4" x2="234.7" y2="742.0" stroke="#8c8c8c" stroke-width="0.8"/>
<line x1="236.7" y1="735.4" x2="236.7" y2="742.0" stroke="#aaa" stroke-width="0.6"/>
<path d="M183.4,769.4 L176.9,769.4 A3.3,3.3 0 0 0 176.9,776.0 L183.4,776.0" stroke="#8c8c8c" stroke-width="0.8" fill="none"/>
<line x1="176.8" y1="769.4" x2="176.8" y2="776.0" stroke="#8c8c8c" stroke-width="0.8"/>
<line x1="178.8" y1="769.4" x2="178.8" y2="776.0" stroke="#aaa" stroke-width="0.6"/>
<path d="M231.5,769.4 L238.0,769.4 A3.3,3.3 0 0 1 238.0,776.0 L231.5,776.0" stroke="#8c8c8c" stroke-width="0.8" fill="none"/>
<line x1="234.7" y1="769.4" x2="234.7" y2="776.0" stroke="#8c8c8c" stroke-width="0.8"/>
<line x1="236.7" y1="769.4" x2="236.7" y2="776.0" stroke="#aaa" stroke-width="0.6"/>
<text transform="translate(240.2,763.8) rotate(-90)" font-size="9.96" fill="#1a1a1a" stroke="#1a1a1a" stroke-width="0.25" font-weight="normal" textLength="18.8" lengthAdjust="spacingAndGlyphs">SW5</text>
<circle cx="248.4" cy="739.6" r="3.00" stroke="#8c8c8c" stroke-width="0.8" fill="none"/>
<rect x="252.4" y="745.5" width="162.2" height="18.8" rx="0" stroke="#8c8c8c" stroke-width="0.8" fill="none"/>
<rect x="257.6" y="750.1" width="9.5" height="9.5" rx="0" stroke="#8c8c8c" stroke-width="0.8" fill="none"/>
<rect x="260.0" y="752.5" width="4.7" height="4.7" rx="0" stroke="#8c8c8c" stroke-width="0.8" fill="none"/>
<path d="M259.7,764.3 L259.7,768.6 A2.7,2.7 0 0 0 265.1,768.6 L265.1,764.3" stroke="#8c8c8c" stroke-width="0.8" fill="none"/>
<rect x="277.9" y="750.1" width="9.5" height="9.5" rx="0" stroke="#8c8c8c" stroke-width="0.8" fill="none"/>
<rect x="280.3" y="752.5" width="4.7" height="4.7" rx="0" stroke="#8c8c8c" stroke-width="0.8" fill="none"/>
<path d="M279.9,745.5 L279.9,741.2 A2.7,2.7 0 0 1 285.3,741.2 L285.3,745.5" stroke="#8c8c8c" stroke-width="0.8" fill="none"/>
<rect x="298.1" y="750.1" width="9.5" height="9.5" rx="0" stroke="#8c8c8c" stroke-width="0.8" fill="none"/>
<rect x="300.5" y="752.5" width="4.7" height="4.7" rx="0" stroke="#8c8c8c" stroke-width="0.8" fill="none"/>
<path d="M300.1,764.3 L300.1,768.6 A2.7,2.7 0 0 0 305.5,768.6 L305.5,764.3" stroke="#8c8c8c" stroke-width="0.8" fill="none"/>
<rect x="318.3" y="750.1" width="9.5" height="9.5" rx="0" stroke="#8c8c8c" stroke-width="0.8" fill="none"/>
<rect x="320.7" y="752.5" width="4.7" height="4.7" rx="0" stroke="#8c8c8c" stroke-width="0.8" fill="none"/>
<path d="M320.3,745.5 L320.3,741.2 A2.7,2.7 0 0 1 325.7,741.2 L325.7,745.5" stroke="#8c8c8c" stroke-width="0.8" fill="none"/>
<rect x="338.5" y="750.1" width="9.5" height="9.5" rx="0" stroke="#8c8c8c" stroke-width="0.8" fill="none"/>
<rect x="340.9" y="752.5" width="4.7" height="4.7" rx="0" stroke="#8c8c8c" stroke-width="0.8" fill="none"/>
<path d="M340.5,764.3 L340.5,768.6 A2.7,2.7 0 0 0 345.9,768.6 L345.9,764.3" stroke="#8c8c8c" stroke-width="0.8" fill="none"/>
<rect x="358.7" y="750.1" width="9.5" height="9.5" rx="0" stroke="#8c8c8c" stroke-width="0.8" fill="none"/>
<rect x="361.1" y="752.5" width="4.7" height="4.7" rx="0" stroke="#8c8c8c" stroke-width="0.8" fill="none"/>
<path d="M360.8,745.5 L360.8,741.2 A2.7,2.7 0 0 1 366.1,741.2 L366.1,745.5" stroke="#8c8c8c" stroke-width="0.8" fill="none"/>
<rect x="378.9" y="750.1" width="9.5" height="9.5" rx="0" stroke="#8c8c8c" stroke-width="0.8" fill="none"/>
<rect x="381.3" y="752.5" width="4.7" height="4.7" rx="0" stroke="#8c8c8c" stroke-width="0.8" fill="none"/>
<path d="M381.0,764.3 L381.0,768.6 A2.7,2.7 0 0 0 386.4,768.6 L386.4,764.3" stroke="#8c8c8c" stroke-width="0.8" fill="none"/>
<rect x="399.1" y="750.1" width="9.5" height="9.5" rx="0" stroke="#8c8c8c" stroke-width="0.8" fill="none"/>
<rect x="401.5" y="752.5" width="4.7" height="4.7" rx="0" stroke="#8c8c8c" stroke-width="0.8" fill="none"/>
<path d="M401.2,745.5 L401.2,741.2 A2.7,2.7 0 0 1 406.6,741.2 L406.6,745.5" stroke="#8c8c8c" stroke-width="0.8" fill="none"/>
<rect x="434.6" y="745.5" width="120.8" height="18.8" rx="0" stroke="#8c8c8c" stroke-width="0.8" fill="none"/>
<rect x="439.9" y="750.1" width="9.5" height="9.5" rx="0" stroke="#8c8c8c" stroke-width="0.8" fill="none"/>
<rect x="442.2" y="752.5" width="4.7" height="4.7" rx="0" stroke="#8c8c8c" stroke-width="0.8" fill="none"/>
<path d="M441.9,764.3 L441.9,768.6 A2.7,2.7 0 0 0 447.3,768.6 L447.3,764.3" stroke="#8c8c8c" stroke-width="0.8" fill="none"/>
<rect x="460.1" y="750.1" width="9.5" height="9.5" rx="0" stroke="#8c8c8c" stroke-width="0.8" fill="none"/>
<rect x="462.4" y="752.5" width="4.7" height="4.7" rx="0" stroke="#8c8c8c" stroke-width="0.8" fill="none"/>
<path d="M462.1,745.5 L462.1,741.2 A2.7,2.7 0 0 1 467.5,741.2 L467.5,745.5" stroke="#8c8c8c" stroke-width="0.8" fill="none"/>
<rect x="480.2" y="750.1" width="9.5" height="9.5" rx="0" stroke="#8c8c8c" stroke-width="0.8" fill="none"/>
<rect x="482.6" y="752.5" width="4.7" height="4.7" rx="0" stroke="#8c8c8c" stroke-width="0.8" fill="none"/>
<path d="M482.3,764.3 L482.3,768.6 A2.7,2.7 0 0 0 487.7,768.6 L487.7,764.3" stroke="#8c8c8c" stroke-width="0.8" fill="none"/>
<rect x="500.5" y="750.1" width="9.5" height="9.5" rx="0" stroke="#8c8c8c" stroke-width="0.8" fill="none"/>
<rect x="502.9" y="752.5" width="4.7" height="4.7" rx="0" stroke="#8c8c8c" stroke-width="0.8" fill="none"/>
<path d="M502.5,745.5 L502.5,741.2 A2.7,2.7 0 0 1 507.9,741.2 L507.9,745.5" stroke="#8c8c8c" stroke-width="0.8" fill="none"/>
<rect x="520.6" y="750.1" width="9.5" height="9.5" rx="0" stroke="#8c8c8c" stroke-width="0.8" fill="none"/>
<rect x="523.0" y="752.5" width="4.7" height="4.7" rx="0" stroke="#8c8c8c" stroke-width="0.8" fill="none"/>
<path d="M522.7,764.3 L522.7,768.6 A2.7,2.7 0 0 0 528.1,768.6 L528.1,764.3" stroke="#8c8c8c" stroke-width="0.8" fill="none"/>
<rect x="540.9" y="750.1" width="9.5" height="9.5" rx="0" stroke="#8c8c8c" stroke-width="0.8" fill="none"/>
<rect x="543.2" y="752.5" width="4.7" height="4.7" rx="0" stroke="#8c8c8c" stroke-width="0.8" fill="none"/>
<path d="M542.9,745.5 L542.9,741.2 A2.7,2.7 0 0 1 548.3,741.2 L548.3,745.5" stroke="#8c8c8c" stroke-width="0.8" fill="none"/>
<rect x="253.1" y="776.4" width="160.6" height="18.2" rx="0" stroke="#8c8c8c" stroke-width="0.8" fill="none"/>
<circle cx="262.4" cy="785.5" r="6.10" stroke="#8c8c8c" stroke-width="0.8" fill="none"/>
<circle cx="262.4" cy="785.5" r="3.00" stroke="#8c8c8c" stroke-width="0.8" fill="none"/>
<circle cx="282.6" cy="785.5" r="6.10" stroke="#8c8c8c" stroke-width="0.8" fill="none"/>
<circle cx="282.6" cy="785.5" r="3.00" stroke="#8c8c8c" stroke-width="0.8" fill="none"/>
<circle cx="302.8" cy="785.5" r="6.10" stroke="#8c8c8c" stroke-width="0.8" fill="none"/>
<circle cx="302.8" cy="785.5" r="3.00" stroke="#8c8c8c" stroke-width="0.8" fill="none"/>
<circle cx="323.0" cy="785.5" r="6.10" stroke="#8c8c8c" stroke-width="0.8" fill="none"/>
<circle cx="323.0" cy="785.5" r="3.00" stroke="#8c8c8c" stroke-width="0.8" fill="none"/>
<circle cx="343.2" cy="785.5" r="6.10" stroke="#8c8c8c" stroke-width="0.8" fill="none"/>
<circle cx="343.2" cy="785.5" r="3.00" stroke="#8c8c8c" stroke-width="0.8" fill="none"/>
<circle cx="363.4" cy="785.5" r="6.10" stroke="#8c8c8c" stroke-width="0.8" fill="none"/>
<circle cx="363.4" cy="785.5" r="3.00" stroke="#8c8c8c" stroke-width="0.8" fill="none"/>
<circle cx="383.7" cy="785.5" r="6.10" stroke="#8c8c8c" stroke-width="0.8" fill="none"/>
<circle cx="383.7" cy="785.5" r="3.00" stroke="#8c8c8c" stroke-width="0.8" fill="none"/>
<circle cx="403.9" cy="785.5" r="6.10" stroke="#8c8c8c" stroke-width="0.8" fill="none"/>
<circle cx="403.9" cy="785.5" r="3.00" stroke="#8c8c8c" stroke-width="0.8" fill="none"/>
<rect x="435.2" y="776.4" width="120.0" height="18.2" rx="0" stroke="#8c8c8c" stroke-width="0.8" fill="none"/>
<circle cx="444.6" cy="785.5" r="6.10" stroke="#8c8c8c" stroke-width="0.8" fill="none"/>
<circle cx="444.6" cy="785.5" r="3.00" stroke="#8c8c8c" stroke-width="0.8" fill="none"/>
<circle cx="464.8" cy="785.5" r="6.10" stroke="#8c8c8c" stroke-width="0.8" fill="none"/>
<circle cx="464.8" cy="785.5" r="3.00" stroke="#8c8c8c" stroke-width="0.8" fill="none"/>
<circle cx="485.0" cy="785.5" r="6.10" stroke="#8c8c8c" stroke-width="0.8" fill="none"/>
<circle cx="485.0" cy="785.5" r="3.00" stroke="#8c8c8c" stroke-width="0.8" fill="none"/>
<circle cx="505.2" cy="785.5" r="6.10" stroke="#8c8c8c" stroke-width="0.8" fill="none"/>
<circle cx="505.2" cy="785.5" r="3.00" stroke="#8c8c8c" stroke-width="0.8" fill="none"/>
<circle cx="525.4" cy="785.5" r="6.10" stroke="#8c8c8c" stroke-width="0.8" fill="none"/>
<circle cx="525.4" cy="785.5" r="3.00" stroke="#8c8c8c" stroke-width="0.8" fill="none"/>
<circle cx="545.6" cy="785.5" r="6.10" stroke="#8c8c8c" stroke-width="0.8" fill="none"/>
<circle cx="545.6" cy="785.5" r="3.00" stroke="#8c8c8c" stroke-width="0.8" fill="none"/>
<rect x="253.1" y="795.7" width="160.6" height="19.2" rx="0" stroke="#8c8c8c" stroke-width="0.8" fill="none"/>
<rect x="256.4" y="799.3" width="12.0" height="12.0" rx="0" stroke="#8c8c8c" stroke-width="0.8" fill="none"/>
<circle cx="262.4" cy="805.3" r="3.00" stroke="#8c8c8c" stroke-width="0.8" fill="none"/>
<circle cx="282.6" cy="805.3" r="6.10" stroke="#8c8c8c" stroke-width="0.8" fill="none"/>
<circle cx="282.6" cy="805.3" r="3.00" stroke="#8c8c8c" stroke-width="0.8" fill="none"/>
<circle cx="302.8" cy="805.3" r="6.10" stroke="#8c8c8c" stroke-width="0.8" fill="none"/>
<circle cx="302.8" cy="805.3" r="3.00" stroke="#8c8c8c" stroke-width="0.8" fill="none"/>
<circle cx="323.0" cy="805.3" r="6.10" stroke="#8c8c8c" stroke-width="0.8" fill="none"/>
<circle cx="323.0" cy="805.3" r="3.00" stroke="#8c8c8c" stroke-width="0.8" fill="none"/>
<circle cx="343.2" cy="805.3" r="6.10" stroke="#8c8c8c" stroke-width="0.8" fill="none"/>
<circle cx="343.2" cy="805.3" r="3.00" stroke="#8c8c8c" stroke-width="0.8" fill="none"/>
<circle cx="363.4" cy="805.3" r="6.10" stroke="#8c8c8c" stroke-width="0.8" fill="none"/>
<circle cx="363.4" cy="805.3" r="3.00" stroke="#8c8c8c" stroke-width="0.8" fill="none"/>
<circle cx="383.7" cy="805.3" r="6.10" stroke="#8c8c8c" stroke-width="0.8" fill="none"/>
<circle cx="383.7" cy="805.3" r="3.00" stroke="#8c8c8c" stroke-width="0.8" fill="none"/>
<circle cx="403.9" cy="805.3" r="6.10" stroke="#8c8c8c" stroke-width="0.8" fill="none"/>
<circle cx="403.9" cy="805.3" r="3.00" stroke="#8c8c8c" stroke-width="0.8" fill="none"/>
<line x1="272.2" y1="796.2" x2="272.2" y2="802.3" stroke="#8c8c8c" stroke-width="0.8"/>
<line x1="272.2" y1="808.5" x2="272.2" y2="814.4" stroke="#8c8c8c" stroke-width="0.8"/>
<rect x="435.2" y="795.7" width="120.0" height="19.2" rx="0" stroke="#8c8c8c" stroke-width="0.8" fill="none"/>
<rect x="438.6" y="799.3" width="12.0" height="12.0" rx="0" stroke="#8c8c8c" stroke-width="0.8" fill="none"/>
<circle cx="444.6" cy="805.3" r="3.00" stroke="#8c8c8c" stroke-width="0.8" fill="none"/>
<circle cx="464.8" cy="805.3" r="6.10" stroke="#8c8c8c" stroke-width="0.8" fill="none"/>
<circle cx="464.8" cy="805.3" r="3.00" stroke="#8c8c8c" stroke-width="0.8" fill="none"/>
<circle cx="485.0" cy="805.3" r="6.10" stroke="#8c8c8c" stroke-width="0.8" fill="none"/>
<circle cx="485.0" cy="805.3" r="3.00" stroke="#8c8c8c" stroke-width="0.8" fill="none"/>
<circle cx="505.2" cy="805.3" r="6.10" stroke="#8c8c8c" stroke-width="0.8" fill="none"/>
<circle cx="505.2" cy="805.3" r="3.00" stroke="#8c8c8c" stroke-width="0.8" fill="none"/>
<circle cx="525.4" cy="805.3" r="6.10" stroke="#8c8c8c" stroke-width="0.8" fill="none"/>
<circle cx="525.4" cy="805.3" r="3.00" stroke="#8c8c8c" stroke-width="0.8" fill="none"/>
<circle cx="545.6" cy="805.3" r="6.10" stroke="#8c8c8c" stroke-width="0.8" fill="none"/>
<circle cx="545.6" cy="805.3" r="3.00" stroke="#8c8c8c" stroke-width="0.8" fill="none"/>
<line x1="454.1" y1="796.2" x2="454.1" y2="802.3" stroke="#8c8c8c" stroke-width="0.8"/>
<line x1="454.1" y1="808.5" x2="454.1" y2="814.4" stroke="#8c8c8c" stroke-width="0.8"/>
<line x1="197.8" y1="795.1" x2="253.1" y2="795.1" stroke="#8c8c8c" stroke-width="0.9"/>
<line x1="253.1" y1="795.1" x2="555.2" y2="795.1" stroke="#777" stroke-width="1.0"/>
<text transform="translate(422.5,758.8) rotate(-90)" font-size="9.54" fill="#1a1a1a" stroke="#1a1a1a" stroke-width="0.25" font-weight="normal" textLength="7.8" lengthAdjust="spacingAndGlyphs">P1</text>
<text transform="translate(423.4,792.3) rotate(-90)" font-size="9.75" fill="#1a1a1a" stroke="#1a1a1a" stroke-width="0.25" font-weight="normal" textLength="12.7" lengthAdjust="spacingAndGlyphs">P13</text>
<text transform="translate(565.6,759.4) rotate(-90)" font-size="9.75" fill="#1a1a1a" stroke="#1a1a1a" stroke-width="0.25" font-weight="normal" textLength="8.5" lengthAdjust="spacingAndGlyphs">P2</text>
<text transform="translate(565.6,792.3) rotate(-90)" font-size="9.75" fill="#1a1a1a" stroke="#1a1a1a" stroke-width="0.25" font-weight="normal" textLength="12.7" lengthAdjust="spacingAndGlyphs">P14</text>
<circle cx="430.5" cy="739.8" r="2.70" stroke="#8c8c8c" stroke-width="0.8" fill="none"/>
<text x="197.8" y="809.2" font-size="11.66" fill="#1a1a1a" stroke="#1a1a1a" stroke-width="0.25" font-weight="normal" textLength="21.2" lengthAdjust="spacingAndGlyphs">GND</text>
<rect x="225.8" y="804.4" width="15.6" height="2.2" fill="#e2e2e2"/>
<path d="M225.2,803.8 L241.4,803.8 L241.4,800.2 L249.5,805.5 L241.4,810.8 L241.4,807.2 L225.2,807.2 Z" stroke="#8c8c8c" stroke-width="0.8" fill="none"/>
<text x="583.5" y="776.4" font-size="14.53" fill="#1a1a1a" stroke="#1a1a1a" stroke-width="0.25" font-weight="normal" textLength="23.4" lengthAdjust="spacingAndGlyphs">NFC</text>
<path d="M575.9,814.5 L575.9,785.1 L580.1,785.1 L581.0,786.5 L585.2,786.5" stroke="#8c8c8c" stroke-width="0.8" fill="none"/>
<path d="M612.8,814.5 L612.8,785.1 L608.6,785.1 L607.7,786.5 L603.5,786.5" stroke="#8c8c8c" stroke-width="0.8" fill="none"/>
<line x1="585.2" y1="786.5" x2="603.5" y2="786.5" stroke="#8c8c8c" stroke-width="0.8"/>
<path d="M585.1,786.5 L585.1,783.5 A1.2,1.2 0 0 1 587.5,783.5 L587.5,786.5" stroke="#8c8c8c" stroke-width="0.7" fill="none"/>
<path d="M588.7,786.5 L588.7,783.5 A1.2,1.2 0 0 1 591.1,783.5 L591.1,786.5" stroke="#8c8c8c" stroke-width="0.7" fill="none"/>
<path d="M592.3,786.5 L592.3,783.5 A1.2,1.2 0 0 1 594.7,783.5 L594.7,786.5" stroke="#8c8c8c" stroke-width="0.7" fill="none"/>
<path d="M595.9,786.5 L595.9,783.5 A1.2,1.2 0 0 1 598.3,783.5 L598.3,786.5" stroke="#8c8c8c" stroke-width="0.7" fill="none"/>
<path d="M599.5,786.5 L599.5,783.5 A1.2,1.2 0 0 1 601.9,783.5 L601.9,786.5" stroke="#8c8c8c" stroke-width="0.7" fill="none"/>
<line x1="575.9" y1="814.5" x2="612.8" y2="814.5" stroke="#8c8c8c" stroke-width="0.8"/>
<line x1="575.9" y1="813.6" x2="612.8" y2="813.6" stroke="#bbb" stroke-width="0.6"/>
<path d="M578.4,792.4 L578.4,812.5 M578.4,792.4 L581.5,792.4 L581.5,795.2 L585.1,795.2 L585.1,809.2 L581.5,809.2 L581.5,812.5" stroke="#8c8c8c" stroke-width="0.8" fill="none"/>
<path d="M578.4,797.4 L583.7,797.4 L583.7,807.5 L578.4,807.5" stroke="#8c8c8c" stroke-width="0.8" fill="none"/>
<path d="M610.3,792.4 L610.3,812.5 M610.3,792.4 L607.2,792.4 L607.2,795.2 L603.6,795.2 L603.6,809.2 L607.2,809.2 L607.2,812.5" stroke="#8c8c8c" stroke-width="0.8" fill="none"/>
<path d="M610.3,797.4 L605.0,797.4 L605.0,807.5 L610.3,807.5" stroke="#8c8c8c" stroke-width="0.8" fill="none"/>
<text transform="translate(623.8,797.6) rotate(-90)" font-size="9.88" fill="#1a1a1a" stroke="#1a1a1a" stroke-width="0.25" font-weight="normal" textLength="12.4" lengthAdjust="spacingAndGlyphs">P23</text>
<text x="359.5" y="713.9" font-size="9.12" fill="#1a1a1a" stroke="#1a1a1a" stroke-width="0.25" font-weight="bold" textLength="18.5" lengthAdjust="spacingAndGlyphs">GND</text>
<path d="M40.4,318.2 A8.3,8.3 0 0 1 48.7,309.9 L821.3,309.9 A8.5,8.5 0 0 1 829.8,318.4 L829.8,453.8 L850.0,474.0 L850.0,735.4 L829.8,755.9 L829.8,808.7 A8.1,8.1 0 0 1 821.7,816.8 L48.5,816.8 A8.1,8.1 0 0 1 40.4,808.7 Z" stroke="#4e4e4e" stroke-width="1.5" fill="none"/>
<line x1="40.4" y1="318.2" x2="40.4" y2="808.7" stroke="#1a1a1a" stroke-width="1.5"/>
<path d="M48.7,309.9 A8.3,8.3 0 0 0 40.4,318.2 M40.4,808.7 A8.1,8.1 0 0 0 48.5,816.8" stroke="#222" stroke-width="1.5" fill="none"/>
<path d="M829.8,453.8 L850.0,474.0 M850.0,735.4 L829.8,755.9" stroke="#222" stroke-width="1.5" fill="none"/>
<path d="M210.0,250.8 L210.0,452.0" stroke="#d0021b" stroke-width="2.9" fill="none" stroke-linejoin="miter" stroke-linecap="round"/>
<path d="M87.0,99.0 L87.0,166.9 L229.5,263.0 L229.5,452.0" stroke="#d0021b" stroke-width="2.9" fill="none" stroke-linejoin="miter" stroke-linecap="round"/>
<path d="M109.4,99.0 L109.4,159.0 L246.7,252.6 L250.8,452.0" stroke="#f5a623" stroke-width="2.9" fill="none" stroke-linejoin="miter" stroke-linecap="round"/>
<path d="M132.0,99.0 L132.0,159.3 L270.1,253.8 L270.5,452.0" stroke="#bd10e0" stroke-width="2.9" fill="none" stroke-linejoin="miter" stroke-linecap="round"/>
<path d="M154.3,99.0 L154.3,157.0 L331.5,273.7 L331.5,451.0" stroke="#000000" stroke-width="2.9" fill="none" stroke-linejoin="miter" stroke-linecap="round"/>
<path d="M331.5,393.4 L383.3,427.6 L383.3,754.7" stroke="#000000" stroke-width="2.9" fill="none" stroke-linejoin="miter" stroke-linecap="round"/>
<circle cx="87.0" cy="99.0" r="5.65" stroke="#d0021b" stroke-width="3.8" fill="none"/>
<line x1="87.0" y1="99.6" x2="87.0" y2="108" stroke="#d0021b" stroke-width="2.9" stroke-linecap="round"/>
<circle cx="109.4" cy="99.0" r="5.65" stroke="#f5a623" stroke-width="3.8" fill="none"/>
<line x1="109.4" y1="99.6" x2="109.4" y2="108" stroke="#f5a623" stroke-width="2.9" stroke-linecap="round"/>
<circle cx="132.0" cy="99.0" r="5.65" stroke="#bd10e0" stroke-width="3.8" fill="none"/>
<line x1="132.0" y1="99.6" x2="132.0" y2="108" stroke="#bd10e0" stroke-width="2.9" stroke-linecap="round"/>
<circle cx="154.3" cy="99.0" r="5.65" stroke="#000000" stroke-width="3.8" fill="none"/>
<line x1="154.3" y1="99.6" x2="154.3" y2="108" stroke="#000000" stroke-width="2.9" stroke-linecap="round"/>
</svg></body></html>
